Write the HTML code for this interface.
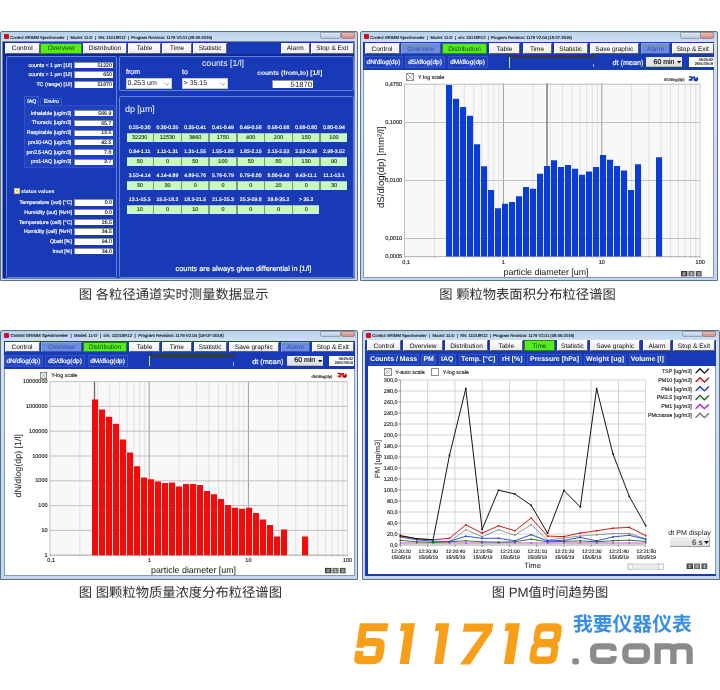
<!DOCTYPE html>
<html><head><meta charset="utf-8"><title>GRIMM 11-D</title><style>html,body{margin:0;padding:0;background:#fff;}
#p{text-rendering:geometricPrecision;position:relative;width:720px;height:690px;overflow:hidden;background:#fff;font-family:"Liberation Sans",sans-serif;}
#p div,#p svg{position:absolute;}
#p .t{white-space:pre;}
#w{left:0;top:0;width:720px;height:690px;filter:blur(0.4px);}
</style></head><body><div id="p">
<div id="w">
<div style="left:0px;top:31px;width:358px;height:250.4px;background:linear-gradient(#b9d1ea,#d3e2f2 12px,#c3d7ee);border:1px solid #5d6f86;box-sizing:border-box;border-radius:2px 2px 0 0;"></div>
<div style="left:3.9px;top:34px;width:4.8px;height:5px;background:#cf0f1c;border-radius:1px;"></div>
<div class="t" style="top:34.67px;height:5.16px;line-height:5.16px;font-size:4.13px;color:#10141c;-webkit-text-stroke:0.14px #10141c;left:10.2px;">Control GRIMM Spectrometer  |  Model: 11-D  |  SN: 11D18R12  |  Program Revision: 1179 V2.01 (08-05-2019)</div>
<div style="left:320px;top:32px;width:21px;height:6.5px;background:linear-gradient(#dbe6f2,#b9c9dc);border:0.5px solid #93a3b8;border-radius:0 0 2px 2px;box-sizing:border-box;"></div>
<div style="left:340.5px;top:32px;width:14px;height:6.5px;background:linear-gradient(#e6bdb6,#d28c84);border:0.5px solid #a08484;border-radius:0 0 2px 2px;box-sizing:border-box;"></div>
<div style="left:3.2px;top:42px;width:350.9px;height:235.8px;background:#0f2799;box-shadow:0 0 0 0.7px #4d5f8c;"></div>
<div style="left:5.6px;top:42px;width:348.5px;height:235.7px;background:#183ab6;"></div>
<div style="left:3.2px;top:53.6px;width:350.9px;height:2.4px;background:#0f2799;"></div>
<div style="left:4.5px;top:42.6px;width:35.5px;height:11px;background:linear-gradient(#fdfdfd,#ececec);border-top:0.6px solid #fff;border-left:0.6px solid #fff;border-right:0.9px solid #5b5f68;border-bottom:0.9px solid #5b5f68;box-sizing:border-box;"></div>
<div class="t" style="top:45.09px;height:8.12px;line-height:8.12px;font-size:6.5px;color:#0a0a0a;left:-97.75px;width:240px;text-align:center;">Control</div>
<div style="left:40.4px;top:42.6px;width:41.6px;height:11px;background:#58ec1c;border:0.9px solid #2c8a12;box-sizing:border-box;"></div>
<div class="t" style="top:45.09px;height:8.12px;line-height:8.12px;font-size:6.5px;color:#0b4d08;left:-58.8px;width:240px;text-align:center;">Overview</div>
<div style="left:83px;top:42.6px;width:44px;height:11px;background:linear-gradient(#fdfdfd,#ececec);border-top:0.6px solid #fff;border-left:0.6px solid #fff;border-right:0.9px solid #5b5f68;border-bottom:0.9px solid #5b5f68;box-sizing:border-box;"></div>
<div class="t" style="top:45.09px;height:8.12px;line-height:8.12px;font-size:6.5px;color:#0a0a0a;left:-15px;width:240px;text-align:center;">Distribution</div>
<div style="left:128.3px;top:42.6px;width:32.7px;height:11px;background:linear-gradient(#fdfdfd,#ececec);border-top:0.6px solid #fff;border-left:0.6px solid #fff;border-right:0.9px solid #5b5f68;border-bottom:0.9px solid #5b5f68;box-sizing:border-box;"></div>
<div class="t" style="top:45.09px;height:8.12px;line-height:8.12px;font-size:6.5px;color:#0a0a0a;left:24.65px;width:240px;text-align:center;">Table</div>
<div style="left:162.3px;top:42.6px;width:29.7px;height:11px;background:linear-gradient(#fdfdfd,#ececec);border-top:0.6px solid #fff;border-left:0.6px solid #fff;border-right:0.9px solid #5b5f68;border-bottom:0.9px solid #5b5f68;box-sizing:border-box;"></div>
<div class="t" style="top:45.09px;height:8.12px;line-height:8.12px;font-size:6.5px;color:#0a0a0a;left:57.15px;width:240px;text-align:center;">Time</div>
<div style="left:193.3px;top:42.6px;width:33.7px;height:11px;background:linear-gradient(#fdfdfd,#ececec);border-top:0.6px solid #fff;border-left:0.6px solid #fff;border-right:0.9px solid #5b5f68;border-bottom:0.9px solid #5b5f68;box-sizing:border-box;"></div>
<div class="t" style="top:45.09px;height:8.12px;line-height:8.12px;font-size:6.5px;color:#0a0a0a;left:90.15px;width:240px;text-align:center;">Statistic</div>
<div style="left:280.5px;top:42.6px;width:29.5px;height:11px;background:linear-gradient(#fdfdfd,#ececec);border-top:0.6px solid #fff;border-left:0.6px solid #fff;border-right:0.9px solid #5b5f68;border-bottom:0.9px solid #5b5f68;box-sizing:border-box;"></div>
<div class="t" style="top:45.09px;height:8.12px;line-height:8.12px;font-size:6.5px;color:#0a0a0a;left:175.25px;width:240px;text-align:center;">Alarm</div>
<div style="left:311px;top:42.6px;width:42.6px;height:11px;background:linear-gradient(#fdfdfd,#ececec);border-top:0.6px solid #fff;border-left:0.6px solid #fff;border-right:0.9px solid #5b5f68;border-bottom:0.9px solid #5b5f68;box-sizing:border-box;"></div>
<div class="t" style="top:45.09px;height:8.12px;line-height:8.12px;font-size:6.5px;color:#0a0a0a;left:212.3px;width:240px;text-align:center;">Stop &amp; Exit</div>
<div style="left:5.9px;top:56.2px;width:111.5px;height:221.4px;border:1.4px solid #6282dc;box-sizing:border-box;border-radius:1.5px;"></div>
<div style="left:118.8px;top:56.3px;width:235px;height:35px;border:1.4px solid #6282dc;box-sizing:border-box;border-radius:1.5px;"></div>
<div style="left:118.8px;top:95.8px;width:235px;height:181.8px;border:1.4px solid #6282dc;box-sizing:border-box;border-radius:1.5px;"></div>
<div class="t" style="top:62.64px;height:6.62px;line-height:6.62px;font-size:5.3px;color:#fff;-webkit-text-stroke:0.18px #fff;left:-168px;width:240px;text-align:right;">counts &lt; 1 µm [1/l]</div>
<div style="left:74px;top:61.8px;width:39.2px;height:6.5px;background:#fff;border-top:0.6px solid #8a8f9c;border-left:0.6px solid #8a8f9c;box-sizing:border-box;"></div>
<div class="t" style="top:62.85px;height:6.5px;line-height:6.5px;font-size:5.2px;color:#1b1b1b;-webkit-text-stroke:0.14px #1b1b1b;left:-128.1px;width:240px;text-align:right;">51220</div>
<div class="t" style="top:72.04px;height:6.62px;line-height:6.62px;font-size:5.3px;color:#fff;-webkit-text-stroke:0.18px #fff;left:-168px;width:240px;text-align:right;">counts &gt; 1 µm [1/l]</div>
<div style="left:74px;top:71.2px;width:39.2px;height:6.5px;background:#fff;border-top:0.6px solid #8a8f9c;border-left:0.6px solid #8a8f9c;box-sizing:border-box;"></div>
<div class="t" style="top:72.25px;height:6.5px;line-height:6.5px;font-size:5.2px;color:#1b1b1b;-webkit-text-stroke:0.14px #1b1b1b;left:-128.1px;width:240px;text-align:right;">650</div>
<div class="t" style="top:82.04px;height:6.62px;line-height:6.62px;font-size:5.3px;color:#fff;-webkit-text-stroke:0.18px #fff;left:-168px;width:240px;text-align:right;">TC (range) [1/l]</div>
<div style="left:74px;top:81.2px;width:39.2px;height:6.5px;background:#fff;border-top:0.6px solid #8a8f9c;border-left:0.6px solid #8a8f9c;box-sizing:border-box;"></div>
<div class="t" style="top:82.25px;height:6.5px;line-height:6.5px;font-size:5.2px;color:#1b1b1b;-webkit-text-stroke:0.14px #1b1b1b;left:-128.1px;width:240px;text-align:right;">51870</div>
<div style="left:24px;top:105.3px;width:91.3px;height:62.4px;background:#1f43c0;border:0.6px solid #2f50c8;box-sizing:border-box;"></div>
<div style="left:24.4px;top:96.4px;width:15px;height:9.4px;background:#1f43c0;border:0.6px solid #3a5ace;border-bottom:none;box-sizing:border-box;"></div>
<div style="left:40.4px;top:97.6px;width:22px;height:7.8px;background:#1a3cb4;border:0.6px solid #3454c8;border-bottom:none;box-sizing:border-box;"></div>
<div class="t" style="top:98.94px;height:6.62px;line-height:6.62px;font-size:5.3px;color:#fff;-webkit-text-stroke:0.18px #fff;left:-88.2px;width:240px;text-align:center;">IAQ</div>
<div class="t" style="top:99.34px;height:6.62px;line-height:6.62px;font-size:5.3px;color:#fff;-webkit-text-stroke:0.18px #fff;left:-68.6px;width:240px;text-align:center;">Enviro</div>
<div class="t" style="top:110.74px;height:6.62px;line-height:6.62px;font-size:5.3px;color:#fff;-webkit-text-stroke:0.18px #fff;left:-168.7px;width:240px;text-align:right;">Inhalable [ug/m3]</div>
<div style="left:73.5px;top:110px;width:39.1px;height:6.3px;background:#fff;border-top:0.6px solid #8a8f9c;border-left:0.6px solid #8a8f9c;box-sizing:border-box;"></div>
<div class="t" style="top:110.95px;height:6.5px;line-height:6.5px;font-size:5.2px;color:#1b1b1b;-webkit-text-stroke:0.14px #1b1b1b;left:-128.7px;width:240px;text-align:right;">566.9</div>
<div class="t" style="top:120.44px;height:6.62px;line-height:6.62px;font-size:5.3px;color:#fff;-webkit-text-stroke:0.18px #fff;left:-168.7px;width:240px;text-align:right;">Thoracic [ug/m3]</div>
<div style="left:73.5px;top:119.7px;width:39.1px;height:6.3px;background:#fff;border-top:0.6px solid #8a8f9c;border-left:0.6px solid #8a8f9c;box-sizing:border-box;"></div>
<div class="t" style="top:120.65px;height:6.5px;line-height:6.5px;font-size:5.2px;color:#1b1b1b;-webkit-text-stroke:0.14px #1b1b1b;left:-128.7px;width:240px;text-align:right;">65.7</div>
<div class="t" style="top:130.24px;height:6.62px;line-height:6.62px;font-size:5.3px;color:#fff;-webkit-text-stroke:0.18px #fff;left:-168.7px;width:240px;text-align:right;">Respirable [ug/m3]</div>
<div style="left:73.5px;top:129.5px;width:39.1px;height:6.3px;background:#fff;border-top:0.6px solid #8a8f9c;border-left:0.6px solid #8a8f9c;box-sizing:border-box;"></div>
<div class="t" style="top:130.45px;height:6.5px;line-height:6.5px;font-size:5.2px;color:#1b1b1b;-webkit-text-stroke:0.14px #1b1b1b;left:-128.7px;width:240px;text-align:right;">13.5</div>
<div class="t" style="top:139.74px;height:6.62px;line-height:6.62px;font-size:5.3px;color:#fff;-webkit-text-stroke:0.18px #fff;left:-168.7px;width:240px;text-align:right;">pm10-IAQ [ug/m3]</div>
<div style="left:73.5px;top:139px;width:39.1px;height:6.3px;background:#fff;border-top:0.6px solid #8a8f9c;border-left:0.6px solid #8a8f9c;box-sizing:border-box;"></div>
<div class="t" style="top:139.95px;height:6.5px;line-height:6.5px;font-size:5.2px;color:#1b1b1b;-webkit-text-stroke:0.14px #1b1b1b;left:-128.7px;width:240px;text-align:right;">42.5</div>
<div class="t" style="top:149.54px;height:6.62px;line-height:6.62px;font-size:5.3px;color:#fff;-webkit-text-stroke:0.18px #fff;left:-168.7px;width:240px;text-align:right;">pm2.5-IAQ [ug/m3]</div>
<div style="left:73.5px;top:148.8px;width:39.1px;height:6.3px;background:#fff;border-top:0.6px solid #8a8f9c;border-left:0.6px solid #8a8f9c;box-sizing:border-box;"></div>
<div class="t" style="top:149.75px;height:6.5px;line-height:6.5px;font-size:5.2px;color:#1b1b1b;-webkit-text-stroke:0.14px #1b1b1b;left:-128.7px;width:240px;text-align:right;">7.0</div>
<div class="t" style="top:159.24px;height:6.62px;line-height:6.62px;font-size:5.3px;color:#fff;-webkit-text-stroke:0.18px #fff;left:-168.7px;width:240px;text-align:right;">pm1-IAQ [ug/m3]</div>
<div style="left:73.5px;top:158.5px;width:39.1px;height:6.3px;background:#fff;border-top:0.6px solid #8a8f9c;border-left:0.6px solid #8a8f9c;box-sizing:border-box;"></div>
<div class="t" style="top:159.45px;height:6.5px;line-height:6.5px;font-size:5.2px;color:#1b1b1b;-webkit-text-stroke:0.14px #1b1b1b;left:-128.7px;width:240px;text-align:right;">3.7</div>
<div style="left:13.7px;top:188px;width:6.2px;height:6.2px;background:#fffdf2;border:0.4px solid #cdbb7a;box-sizing:border-box;"></div>
<svg style="left:13.7px;top:188px" width="6" height="6" viewBox="0 0 6 6"><path d="M1.7 1.7L4.5 4.5M4.5 1.7L1.7 4.5" stroke="#c9a227" stroke-width="0.7" fill="none"/></svg>
<div class="t" style="top:188.74px;height:6.62px;line-height:6.62px;font-size:5.3px;color:#fff;font-weight:bold;left:21px;">status values</div>
<div class="t" style="top:199.84px;height:6.62px;line-height:6.62px;font-size:5.3px;color:#fff;-webkit-text-stroke:0.18px #fff;left:-168px;width:240px;text-align:right;">Temperature (out) [°C]</div>
<div style="left:74px;top:199px;width:39.2px;height:6.5px;background:#fff;border-top:0.6px solid #8a8f9c;border-left:0.6px solid #8a8f9c;box-sizing:border-box;"></div>
<div class="t" style="top:200.05px;height:6.5px;line-height:6.5px;font-size:5.2px;color:#1b1b1b;-webkit-text-stroke:0.14px #1b1b1b;left:-128.1px;width:240px;text-align:right;">0.0</div>
<div class="t" style="top:209.64px;height:6.62px;line-height:6.62px;font-size:5.3px;color:#fff;-webkit-text-stroke:0.18px #fff;left:-168px;width:240px;text-align:right;">Humidity (out) [%rH]</div>
<div style="left:74px;top:208.8px;width:39.2px;height:6.5px;background:#fff;border-top:0.6px solid #8a8f9c;border-left:0.6px solid #8a8f9c;box-sizing:border-box;"></div>
<div class="t" style="top:209.85px;height:6.5px;line-height:6.5px;font-size:5.2px;color:#1b1b1b;-webkit-text-stroke:0.14px #1b1b1b;left:-128.1px;width:240px;text-align:right;">0.0</div>
<div class="t" style="top:219.54px;height:6.62px;line-height:6.62px;font-size:5.3px;color:#fff;-webkit-text-stroke:0.18px #fff;left:-168px;width:240px;text-align:right;">Temperature (cell) [°C]</div>
<div style="left:74px;top:218.7px;width:39.2px;height:6.5px;background:#fff;border-top:0.6px solid #8a8f9c;border-left:0.6px solid #8a8f9c;box-sizing:border-box;"></div>
<div class="t" style="top:219.75px;height:6.5px;line-height:6.5px;font-size:5.2px;color:#1b1b1b;-webkit-text-stroke:0.14px #1b1b1b;left:-128.1px;width:240px;text-align:right;">26.5</div>
<div class="t" style="top:229.14px;height:6.62px;line-height:6.62px;font-size:5.3px;color:#fff;-webkit-text-stroke:0.18px #fff;left:-168px;width:240px;text-align:right;">Humidity (cell) [%rH]</div>
<div style="left:74px;top:228.3px;width:39.2px;height:6.5px;background:#fff;border-top:0.6px solid #8a8f9c;border-left:0.6px solid #8a8f9c;box-sizing:border-box;"></div>
<div class="t" style="top:229.35px;height:6.5px;line-height:6.5px;font-size:5.2px;color:#1b1b1b;-webkit-text-stroke:0.14px #1b1b1b;left:-128.1px;width:240px;text-align:right;">34.5</div>
<div class="t" style="top:238.84px;height:6.62px;line-height:6.62px;font-size:5.3px;color:#fff;-webkit-text-stroke:0.18px #fff;left:-168px;width:240px;text-align:right;">Qbatt [%]</div>
<div style="left:74px;top:238px;width:39.2px;height:6.5px;background:#fff;border-top:0.6px solid #8a8f9c;border-left:0.6px solid #8a8f9c;box-sizing:border-box;"></div>
<div class="t" style="top:239.05px;height:6.5px;line-height:6.5px;font-size:5.2px;color:#1b1b1b;-webkit-text-stroke:0.14px #1b1b1b;left:-128.1px;width:240px;text-align:right;">94.0</div>
<div class="t" style="top:248.64px;height:6.62px;line-height:6.62px;font-size:5.3px;color:#fff;-webkit-text-stroke:0.18px #fff;left:-168px;width:240px;text-align:right;">Imot [%]</div>
<div style="left:74px;top:247.8px;width:39.2px;height:6.5px;background:#fff;border-top:0.6px solid #8a8f9c;border-left:0.6px solid #8a8f9c;box-sizing:border-box;"></div>
<div class="t" style="top:248.85px;height:6.5px;line-height:6.5px;font-size:5.2px;color:#1b1b1b;-webkit-text-stroke:0.14px #1b1b1b;left:-128.1px;width:240px;text-align:right;">34.0</div>
<div class="t" style="top:58.41px;height:10.88px;line-height:10.88px;font-size:8.7px;color:#fff;left:103px;width:240px;text-align:center;">counts [1/l]</div>
<div class="t" style="top:68.67px;height:8.75px;line-height:8.75px;font-size:7px;color:#fff;-webkit-text-stroke:0.18px #fff;left:126px;">from</div>
<div class="t" style="top:68.67px;height:8.75px;line-height:8.75px;font-size:7px;color:#fff;-webkit-text-stroke:0.18px #fff;left:182px;">to</div>
<div style="left:126px;top:77.7px;width:46px;height:11.6px;background:#fff;border:0.5px solid #c4c8d0;box-sizing:border-box;"></div>
<div class="t" style="top:79.97px;height:8.75px;line-height:8.75px;font-size:7px;color:#151515;left:127.6px;">0.253 um</div>
<svg style="left:164px;top:81.6px" width="6" height="4" viewBox="0 0 6 4"><path d="M0.8 0.8L3 3L5.2 0.8" stroke="#b0a890" stroke-width="1" fill="none"/></svg>
<div style="left:182px;top:77.7px;width:46px;height:11.6px;background:#fff;border:0.5px solid #c4c8d0;box-sizing:border-box;"></div>
<div class="t" style="top:79.97px;height:8.75px;line-height:8.75px;font-size:7px;color:#151515;left:183.6px;">&gt; 35.15</div>
<svg style="left:220px;top:81.6px" width="6" height="4" viewBox="0 0 6 4"><path d="M0.8 0.8L3 3L5.2 0.8" stroke="#b0a890" stroke-width="1" fill="none"/></svg>
<div class="t" style="top:70.06px;height:8.38px;line-height:8.38px;font-size:6.7px;color:#fff;font-weight:bold;left:169.7px;width:240px;text-align:center;">counts (from,to) [1/l]</div>
<div style="left:272px;top:80px;width:41px;height:8px;background:#fff;border-top:0.6px solid #8a8f9c;border-left:0.6px solid #8a8f9c;box-sizing:border-box;"></div>
<div class="t" style="top:80.24px;height:9.62px;line-height:9.62px;font-size:7.7px;color:#151515;left:72px;width:240px;text-align:right;">51870</div>
<div class="t" style="top:104.29px;height:11.12px;line-height:11.12px;font-size:8.9px;color:#fff;left:125px;">dp [µm]</div>
<div style="left:126.6px;top:133.3px;width:220.6px;height:9.1px;background:#7f958c;"></div>
<div style="left:126.6px;top:133.3px;width:26.2px;height:9.1px;background:#c8f8ca;border-top:0.5px solid #a9c9ae;box-sizing:border-box;"></div>
<div class="t" style="top:125.13px;height:6.44px;line-height:6.44px;font-size:5.15px;color:#fff;-webkit-text-stroke:0.18px #fff;left:19.7px;width:240px;text-align:center;">0.25-0.30</div>
<div class="t" style="top:135.46px;height:6.88px;line-height:6.88px;font-size:5.5px;color:#14301a;-webkit-text-stroke:0.14px #14301a;left:19.7px;width:240px;text-align:center;">32230</div>
<div style="left:154.35px;top:133.3px;width:26.2px;height:9.1px;background:#c8f8ca;border-top:0.5px solid #a9c9ae;box-sizing:border-box;"></div>
<div class="t" style="top:125.13px;height:6.44px;line-height:6.44px;font-size:5.15px;color:#fff;-webkit-text-stroke:0.18px #fff;left:47.45px;width:240px;text-align:center;">0.30-0.35</div>
<div class="t" style="top:135.46px;height:6.88px;line-height:6.88px;font-size:5.5px;color:#14301a;-webkit-text-stroke:0.14px #14301a;left:47.45px;width:240px;text-align:center;">12530</div>
<div style="left:182.1px;top:133.3px;width:26.2px;height:9.1px;background:#c8f8ca;border-top:0.5px solid #a9c9ae;box-sizing:border-box;"></div>
<div class="t" style="top:125.13px;height:6.44px;line-height:6.44px;font-size:5.15px;color:#fff;-webkit-text-stroke:0.18px #fff;left:75.2px;width:240px;text-align:center;">0.35-0.41</div>
<div class="t" style="top:135.46px;height:6.88px;line-height:6.88px;font-size:5.5px;color:#14301a;-webkit-text-stroke:0.14px #14301a;left:75.2px;width:240px;text-align:center;">3860</div>
<div style="left:209.85px;top:133.3px;width:26.2px;height:9.1px;background:#c8f8ca;border-top:0.5px solid #a9c9ae;box-sizing:border-box;"></div>
<div class="t" style="top:125.13px;height:6.44px;line-height:6.44px;font-size:5.15px;color:#fff;-webkit-text-stroke:0.18px #fff;left:102.95px;width:240px;text-align:center;">0.41-0.49</div>
<div class="t" style="top:135.46px;height:6.88px;line-height:6.88px;font-size:5.5px;color:#14301a;-webkit-text-stroke:0.14px #14301a;left:102.95px;width:240px;text-align:center;">1750</div>
<div style="left:237.6px;top:133.3px;width:26.2px;height:9.1px;background:#c8f8ca;border-top:0.5px solid #a9c9ae;box-sizing:border-box;"></div>
<div class="t" style="top:125.13px;height:6.44px;line-height:6.44px;font-size:5.15px;color:#fff;-webkit-text-stroke:0.18px #fff;left:130.7px;width:240px;text-align:center;">0.49-0.58</div>
<div class="t" style="top:135.46px;height:6.88px;line-height:6.88px;font-size:5.5px;color:#14301a;-webkit-text-stroke:0.14px #14301a;left:130.7px;width:240px;text-align:center;">400</div>
<div style="left:265.35px;top:133.3px;width:26.2px;height:9.1px;background:#c8f8ca;border-top:0.5px solid #a9c9ae;box-sizing:border-box;"></div>
<div class="t" style="top:125.13px;height:6.44px;line-height:6.44px;font-size:5.15px;color:#fff;-webkit-text-stroke:0.18px #fff;left:158.45px;width:240px;text-align:center;">0.58-0.68</div>
<div class="t" style="top:135.46px;height:6.88px;line-height:6.88px;font-size:5.5px;color:#14301a;-webkit-text-stroke:0.14px #14301a;left:158.45px;width:240px;text-align:center;">200</div>
<div style="left:293.1px;top:133.3px;width:26.2px;height:9.1px;background:#c8f8ca;border-top:0.5px solid #a9c9ae;box-sizing:border-box;"></div>
<div class="t" style="top:125.13px;height:6.44px;line-height:6.44px;font-size:5.15px;color:#fff;-webkit-text-stroke:0.18px #fff;left:186.2px;width:240px;text-align:center;">0.68-0.80</div>
<div class="t" style="top:135.46px;height:6.88px;line-height:6.88px;font-size:5.5px;color:#14301a;-webkit-text-stroke:0.14px #14301a;left:186.2px;width:240px;text-align:center;">150</div>
<div style="left:320.85px;top:133.3px;width:26.2px;height:9.1px;background:#c8f8ca;border-top:0.5px solid #a9c9ae;box-sizing:border-box;"></div>
<div class="t" style="top:125.13px;height:6.44px;line-height:6.44px;font-size:5.15px;color:#fff;-webkit-text-stroke:0.18px #fff;left:213.95px;width:240px;text-align:center;">0.80-0.94</div>
<div class="t" style="top:135.46px;height:6.88px;line-height:6.88px;font-size:5.5px;color:#14301a;-webkit-text-stroke:0.14px #14301a;left:213.95px;width:240px;text-align:center;">100</div>
<div style="left:126.6px;top:157.3px;width:220.6px;height:9.1px;background:#7f958c;"></div>
<div style="left:126.6px;top:157.3px;width:26.2px;height:9.1px;background:#c8f8ca;border-top:0.5px solid #a9c9ae;box-sizing:border-box;"></div>
<div class="t" style="top:149.13px;height:6.44px;line-height:6.44px;font-size:5.15px;color:#fff;-webkit-text-stroke:0.18px #fff;left:19.7px;width:240px;text-align:center;">0.94-1.11</div>
<div class="t" style="top:159.46px;height:6.88px;line-height:6.88px;font-size:5.5px;color:#14301a;-webkit-text-stroke:0.14px #14301a;left:19.7px;width:240px;text-align:center;">50</div>
<div style="left:154.35px;top:157.3px;width:26.2px;height:9.1px;background:#c8f8ca;border-top:0.5px solid #a9c9ae;box-sizing:border-box;"></div>
<div class="t" style="top:149.13px;height:6.44px;line-height:6.44px;font-size:5.15px;color:#fff;-webkit-text-stroke:0.18px #fff;left:47.45px;width:240px;text-align:center;">1.11-1.31</div>
<div class="t" style="top:159.46px;height:6.88px;line-height:6.88px;font-size:5.5px;color:#14301a;-webkit-text-stroke:0.14px #14301a;left:47.45px;width:240px;text-align:center;">0</div>
<div style="left:182.1px;top:157.3px;width:26.2px;height:9.1px;background:#c8f8ca;border-top:0.5px solid #a9c9ae;box-sizing:border-box;"></div>
<div class="t" style="top:149.13px;height:6.44px;line-height:6.44px;font-size:5.15px;color:#fff;-webkit-text-stroke:0.18px #fff;left:75.2px;width:240px;text-align:center;">1.31-1.55</div>
<div class="t" style="top:159.46px;height:6.88px;line-height:6.88px;font-size:5.5px;color:#14301a;-webkit-text-stroke:0.14px #14301a;left:75.2px;width:240px;text-align:center;">50</div>
<div style="left:209.85px;top:157.3px;width:26.2px;height:9.1px;background:#c8f8ca;border-top:0.5px solid #a9c9ae;box-sizing:border-box;"></div>
<div class="t" style="top:149.13px;height:6.44px;line-height:6.44px;font-size:5.15px;color:#fff;-webkit-text-stroke:0.18px #fff;left:102.95px;width:240px;text-align:center;">1.55-1.82</div>
<div class="t" style="top:159.46px;height:6.88px;line-height:6.88px;font-size:5.5px;color:#14301a;-webkit-text-stroke:0.14px #14301a;left:102.95px;width:240px;text-align:center;">100</div>
<div style="left:237.6px;top:157.3px;width:26.2px;height:9.1px;background:#c8f8ca;border-top:0.5px solid #a9c9ae;box-sizing:border-box;"></div>
<div class="t" style="top:149.13px;height:6.44px;line-height:6.44px;font-size:5.15px;color:#fff;-webkit-text-stroke:0.18px #fff;left:130.7px;width:240px;text-align:center;">1.82-2.15</div>
<div class="t" style="top:159.46px;height:6.88px;line-height:6.88px;font-size:5.5px;color:#14301a;-webkit-text-stroke:0.14px #14301a;left:130.7px;width:240px;text-align:center;">50</div>
<div style="left:265.35px;top:157.3px;width:26.2px;height:9.1px;background:#c8f8ca;border-top:0.5px solid #a9c9ae;box-sizing:border-box;"></div>
<div class="t" style="top:149.13px;height:6.44px;line-height:6.44px;font-size:5.15px;color:#fff;-webkit-text-stroke:0.18px #fff;left:158.45px;width:240px;text-align:center;">2.15-2.53</div>
<div class="t" style="top:159.46px;height:6.88px;line-height:6.88px;font-size:5.5px;color:#14301a;-webkit-text-stroke:0.14px #14301a;left:158.45px;width:240px;text-align:center;">50</div>
<div style="left:293.1px;top:157.3px;width:26.2px;height:9.1px;background:#c8f8ca;border-top:0.5px solid #a9c9ae;box-sizing:border-box;"></div>
<div class="t" style="top:149.13px;height:6.44px;line-height:6.44px;font-size:5.15px;color:#fff;-webkit-text-stroke:0.18px #fff;left:186.2px;width:240px;text-align:center;">2.53-2.98</div>
<div class="t" style="top:159.46px;height:6.88px;line-height:6.88px;font-size:5.5px;color:#14301a;-webkit-text-stroke:0.14px #14301a;left:186.2px;width:240px;text-align:center;">130</div>
<div style="left:320.85px;top:157.3px;width:26.2px;height:9.1px;background:#c8f8ca;border-top:0.5px solid #a9c9ae;box-sizing:border-box;"></div>
<div class="t" style="top:149.13px;height:6.44px;line-height:6.44px;font-size:5.15px;color:#fff;-webkit-text-stroke:0.18px #fff;left:213.95px;width:240px;text-align:center;">2.98-3.52</div>
<div class="t" style="top:159.46px;height:6.88px;line-height:6.88px;font-size:5.5px;color:#14301a;-webkit-text-stroke:0.14px #14301a;left:213.95px;width:240px;text-align:center;">90</div>
<div style="left:126.6px;top:181.3px;width:220.6px;height:9.1px;background:#7f958c;"></div>
<div style="left:126.6px;top:181.3px;width:26.2px;height:9.1px;background:#c8f8ca;border-top:0.5px solid #a9c9ae;box-sizing:border-box;"></div>
<div class="t" style="top:173.13px;height:6.44px;line-height:6.44px;font-size:5.15px;color:#fff;-webkit-text-stroke:0.18px #fff;left:19.7px;width:240px;text-align:center;">3.52-4.14</div>
<div class="t" style="top:183.46px;height:6.88px;line-height:6.88px;font-size:5.5px;color:#14301a;-webkit-text-stroke:0.14px #14301a;left:19.7px;width:240px;text-align:center;">30</div>
<div style="left:154.35px;top:181.3px;width:26.2px;height:9.1px;background:#c8f8ca;border-top:0.5px solid #a9c9ae;box-sizing:border-box;"></div>
<div class="t" style="top:173.13px;height:6.44px;line-height:6.44px;font-size:5.15px;color:#fff;-webkit-text-stroke:0.18px #fff;left:47.45px;width:240px;text-align:center;">4.14-4.89</div>
<div class="t" style="top:183.46px;height:6.88px;line-height:6.88px;font-size:5.5px;color:#14301a;-webkit-text-stroke:0.14px #14301a;left:47.45px;width:240px;text-align:center;">30</div>
<div style="left:182.1px;top:181.3px;width:26.2px;height:9.1px;background:#c8f8ca;border-top:0.5px solid #a9c9ae;box-sizing:border-box;"></div>
<div class="t" style="top:173.13px;height:6.44px;line-height:6.44px;font-size:5.15px;color:#fff;-webkit-text-stroke:0.18px #fff;left:75.2px;width:240px;text-align:center;">4.89-5.76</div>
<div class="t" style="top:183.46px;height:6.88px;line-height:6.88px;font-size:5.5px;color:#14301a;-webkit-text-stroke:0.14px #14301a;left:75.2px;width:240px;text-align:center;">0</div>
<div style="left:209.85px;top:181.3px;width:26.2px;height:9.1px;background:#c8f8ca;border-top:0.5px solid #a9c9ae;box-sizing:border-box;"></div>
<div class="t" style="top:173.13px;height:6.44px;line-height:6.44px;font-size:5.15px;color:#fff;-webkit-text-stroke:0.18px #fff;left:102.95px;width:240px;text-align:center;">5.76-6.79</div>
<div class="t" style="top:183.46px;height:6.88px;line-height:6.88px;font-size:5.5px;color:#14301a;-webkit-text-stroke:0.14px #14301a;left:102.95px;width:240px;text-align:center;">0</div>
<div style="left:237.6px;top:181.3px;width:26.2px;height:9.1px;background:#c8f8ca;border-top:0.5px solid #a9c9ae;box-sizing:border-box;"></div>
<div class="t" style="top:173.13px;height:6.44px;line-height:6.44px;font-size:5.15px;color:#fff;-webkit-text-stroke:0.18px #fff;left:130.7px;width:240px;text-align:center;">6.79-8.00</div>
<div class="t" style="top:183.46px;height:6.88px;line-height:6.88px;font-size:5.5px;color:#14301a;-webkit-text-stroke:0.14px #14301a;left:130.7px;width:240px;text-align:center;">0</div>
<div style="left:265.35px;top:181.3px;width:26.2px;height:9.1px;background:#c8f8ca;border-top:0.5px solid #a9c9ae;box-sizing:border-box;"></div>
<div class="t" style="top:173.13px;height:6.44px;line-height:6.44px;font-size:5.15px;color:#fff;-webkit-text-stroke:0.18px #fff;left:158.45px;width:240px;text-align:center;">8.00-9.43</div>
<div class="t" style="top:183.46px;height:6.88px;line-height:6.88px;font-size:5.5px;color:#14301a;-webkit-text-stroke:0.14px #14301a;left:158.45px;width:240px;text-align:center;">20</div>
<div style="left:293.1px;top:181.3px;width:26.2px;height:9.1px;background:#c8f8ca;border-top:0.5px solid #a9c9ae;box-sizing:border-box;"></div>
<div class="t" style="top:173.13px;height:6.44px;line-height:6.44px;font-size:5.15px;color:#fff;-webkit-text-stroke:0.18px #fff;left:186.2px;width:240px;text-align:center;">9.43-11.1</div>
<div class="t" style="top:183.46px;height:6.88px;line-height:6.88px;font-size:5.5px;color:#14301a;-webkit-text-stroke:0.14px #14301a;left:186.2px;width:240px;text-align:center;">0</div>
<div style="left:320.85px;top:181.3px;width:26.2px;height:9.1px;background:#c8f8ca;border-top:0.5px solid #a9c9ae;box-sizing:border-box;"></div>
<div class="t" style="top:173.13px;height:6.44px;line-height:6.44px;font-size:5.15px;color:#fff;-webkit-text-stroke:0.18px #fff;left:213.95px;width:240px;text-align:center;">11.1-13.1</div>
<div class="t" style="top:183.46px;height:6.88px;line-height:6.88px;font-size:5.5px;color:#14301a;-webkit-text-stroke:0.14px #14301a;left:213.95px;width:240px;text-align:center;">30</div>
<div style="left:126.6px;top:205.3px;width:192.85px;height:9.1px;background:#7f958c;"></div>
<div style="left:126.6px;top:205.3px;width:26.2px;height:9.1px;background:#c8f8ca;border-top:0.5px solid #a9c9ae;box-sizing:border-box;"></div>
<div class="t" style="top:197.13px;height:6.44px;line-height:6.44px;font-size:5.15px;color:#fff;-webkit-text-stroke:0.18px #fff;left:19.7px;width:240px;text-align:center;">13.1-15.5</div>
<div class="t" style="top:207.46px;height:6.88px;line-height:6.88px;font-size:5.5px;color:#14301a;-webkit-text-stroke:0.14px #14301a;left:19.7px;width:240px;text-align:center;">10</div>
<div style="left:154.35px;top:205.3px;width:26.2px;height:9.1px;background:#c8f8ca;border-top:0.5px solid #a9c9ae;box-sizing:border-box;"></div>
<div class="t" style="top:197.13px;height:6.44px;line-height:6.44px;font-size:5.15px;color:#fff;-webkit-text-stroke:0.18px #fff;left:47.45px;width:240px;text-align:center;">15.5-18.2</div>
<div class="t" style="top:207.46px;height:6.88px;line-height:6.88px;font-size:5.5px;color:#14301a;-webkit-text-stroke:0.14px #14301a;left:47.45px;width:240px;text-align:center;">0</div>
<div style="left:182.1px;top:205.3px;width:26.2px;height:9.1px;background:#c8f8ca;border-top:0.5px solid #a9c9ae;box-sizing:border-box;"></div>
<div class="t" style="top:197.13px;height:6.44px;line-height:6.44px;font-size:5.15px;color:#fff;-webkit-text-stroke:0.18px #fff;left:75.2px;width:240px;text-align:center;">18.2-21.5</div>
<div class="t" style="top:207.46px;height:6.88px;line-height:6.88px;font-size:5.5px;color:#14301a;-webkit-text-stroke:0.14px #14301a;left:75.2px;width:240px;text-align:center;">10</div>
<div style="left:209.85px;top:205.3px;width:26.2px;height:9.1px;background:#c8f8ca;border-top:0.5px solid #a9c9ae;box-sizing:border-box;"></div>
<div class="t" style="top:197.13px;height:6.44px;line-height:6.44px;font-size:5.15px;color:#fff;-webkit-text-stroke:0.18px #fff;left:102.95px;width:240px;text-align:center;">21.5-25.3</div>
<div class="t" style="top:207.46px;height:6.88px;line-height:6.88px;font-size:5.5px;color:#14301a;-webkit-text-stroke:0.14px #14301a;left:102.95px;width:240px;text-align:center;">0</div>
<div style="left:237.6px;top:205.3px;width:26.2px;height:9.1px;background:#c8f8ca;border-top:0.5px solid #a9c9ae;box-sizing:border-box;"></div>
<div class="t" style="top:197.13px;height:6.44px;line-height:6.44px;font-size:5.15px;color:#fff;-webkit-text-stroke:0.18px #fff;left:130.7px;width:240px;text-align:center;">25.3-29.8</div>
<div class="t" style="top:207.46px;height:6.88px;line-height:6.88px;font-size:5.5px;color:#14301a;-webkit-text-stroke:0.14px #14301a;left:130.7px;width:240px;text-align:center;">0</div>
<div style="left:265.35px;top:205.3px;width:26.2px;height:9.1px;background:#c8f8ca;border-top:0.5px solid #a9c9ae;box-sizing:border-box;"></div>
<div class="t" style="top:197.13px;height:6.44px;line-height:6.44px;font-size:5.15px;color:#fff;-webkit-text-stroke:0.18px #fff;left:158.45px;width:240px;text-align:center;">29.8-35.2</div>
<div class="t" style="top:207.46px;height:6.88px;line-height:6.88px;font-size:5.5px;color:#14301a;-webkit-text-stroke:0.14px #14301a;left:158.45px;width:240px;text-align:center;">0</div>
<div style="left:293.1px;top:205.3px;width:26.2px;height:9.1px;background:#c8f8ca;border-top:0.5px solid #a9c9ae;box-sizing:border-box;"></div>
<div class="t" style="top:197.13px;height:6.44px;line-height:6.44px;font-size:5.15px;color:#fff;-webkit-text-stroke:0.18px #fff;left:186.2px;width:240px;text-align:center;">&gt; 35.2</div>
<div class="t" style="top:207.46px;height:6.88px;line-height:6.88px;font-size:5.5px;color:#14301a;-webkit-text-stroke:0.14px #14301a;left:186.2px;width:240px;text-align:center;">0</div>
<div class="t" style="top:263.75px;height:9.19px;line-height:9.19px;font-size:7.35px;color:#fff;-webkit-text-stroke:0.18px #fff;left:93.5px;width:300px;text-align:center;">counts are always given differential in [1/l]</div>
<div style="left:360px;top:31px;width:357.8px;height:250.4px;background:linear-gradient(#b9d1ea,#d3e2f2 12px,#c3d7ee);border:1px solid #5d6f86;box-sizing:border-box;border-radius:2px 2px 0 0;"></div>
<div style="left:363.9px;top:34px;width:4.8px;height:5px;background:#cf0f1c;border-radius:1px;"></div>
<div class="t" style="top:34.67px;height:5.16px;line-height:5.16px;font-size:4.13px;color:#10141c;-webkit-text-stroke:0.14px #10141c;left:370.2px;">Control GRIMM Spectrometer  |  Model: 11-D  |  s/n: 11D18R12  |  Program Revision: 1179 V2.04 (18-07-2019)</div>
<div style="left:679.8px;top:32px;width:21px;height:6.5px;background:linear-gradient(#dbe6f2,#b9c9dc);border:0.5px solid #93a3b8;border-radius:0 0 2px 2px;box-sizing:border-box;"></div>
<div style="left:700.3px;top:32px;width:14px;height:6.5px;background:linear-gradient(#e6bdb6,#d28c84);border:0.5px solid #a08484;border-radius:0 0 2px 2px;box-sizing:border-box;"></div>
<div style="left:363.4px;top:42px;width:351px;height:235.8px;background:#183ab6;"></div>
<div style="left:364.5px;top:43.4px;width:35px;height:10.6px;background:linear-gradient(#fdfdfd,#ececec);border-top:0.6px solid #fff;border-left:0.6px solid #fff;border-right:0.9px solid #5b5f68;border-bottom:0.9px solid #5b5f68;box-sizing:border-box;"></div>
<div class="t" style="top:45.69px;height:8.12px;line-height:8.12px;font-size:6.5px;color:#0a0a0a;left:262px;width:240px;text-align:center;">Control</div>
<div style="left:401px;top:43.4px;width:39.5px;height:10.6px;background:#6f8bdb;border-top:0.6px solid #8aa2e6;border-left:0.6px solid #8aa2e6;border-right:0.9px solid #3a55b0;border-bottom:0.9px solid #3a55b0;box-sizing:border-box;"></div>
<div class="t" style="top:45.69px;height:8.12px;line-height:8.12px;font-size:6.5px;color:#3452b4;left:300.75px;width:240px;text-align:center;">Overview</div>
<div style="left:442px;top:43.4px;width:45px;height:10.6px;background:#58ec1c;border:0.9px solid #2c8a12;box-sizing:border-box;"></div>
<div class="t" style="top:45.69px;height:8.12px;line-height:8.12px;font-size:6.5px;color:#0b4d08;left:344.5px;width:240px;text-align:center;">Distribution</div>
<div style="left:489px;top:43.4px;width:31px;height:10.6px;background:linear-gradient(#fdfdfd,#ececec);border-top:0.6px solid #fff;border-left:0.6px solid #fff;border-right:0.9px solid #5b5f68;border-bottom:0.9px solid #5b5f68;box-sizing:border-box;"></div>
<div class="t" style="top:45.69px;height:8.12px;line-height:8.12px;font-size:6.5px;color:#0a0a0a;left:384.5px;width:240px;text-align:center;">Table</div>
<div style="left:522.5px;top:43.4px;width:29px;height:10.6px;background:linear-gradient(#fdfdfd,#ececec);border-top:0.6px solid #fff;border-left:0.6px solid #fff;border-right:0.9px solid #5b5f68;border-bottom:0.9px solid #5b5f68;box-sizing:border-box;"></div>
<div class="t" style="top:45.69px;height:8.12px;line-height:8.12px;font-size:6.5px;color:#0a0a0a;left:417px;width:240px;text-align:center;">Time</div>
<div style="left:554px;top:43.4px;width:33.5px;height:10.6px;background:linear-gradient(#fdfdfd,#ececec);border-top:0.6px solid #fff;border-left:0.6px solid #fff;border-right:0.9px solid #5b5f68;border-bottom:0.9px solid #5b5f68;box-sizing:border-box;"></div>
<div class="t" style="top:45.69px;height:8.12px;line-height:8.12px;font-size:6.5px;color:#0a0a0a;left:450.75px;width:240px;text-align:center;">Statistic</div>
<div style="left:589.8px;top:43.4px;width:49px;height:10.6px;background:linear-gradient(#fdfdfd,#ececec);border-top:0.6px solid #fff;border-left:0.6px solid #fff;border-right:0.9px solid #5b5f68;border-bottom:0.9px solid #5b5f68;box-sizing:border-box;"></div>
<div class="t" style="top:45.69px;height:8.12px;line-height:8.12px;font-size:6.5px;color:#0a0a0a;left:494.3px;width:240px;text-align:center;">Save graphic</div>
<div style="left:641px;top:43.4px;width:29.2px;height:10.6px;background:#6f8bdb;border-top:0.6px solid #8aa2e6;border-left:0.6px solid #8aa2e6;border-right:0.9px solid #3a55b0;border-bottom:0.9px solid #3a55b0;box-sizing:border-box;"></div>
<div class="t" style="top:45.69px;height:8.12px;line-height:8.12px;font-size:6.5px;color:#3452b4;left:535.6px;width:240px;text-align:center;">Alarm</div>
<div style="left:672px;top:43.4px;width:41.6px;height:10.6px;background:linear-gradient(#fdfdfd,#ececec);border-top:0.6px solid #fff;border-left:0.6px solid #fff;border-right:0.9px solid #5b5f68;border-bottom:0.9px solid #5b5f68;box-sizing:border-box;"></div>
<div class="t" style="top:45.69px;height:8.12px;line-height:8.12px;font-size:6.5px;color:#0a0a0a;left:572.8px;width:240px;text-align:center;">Stop &amp; Exit</div>
<div style="left:364px;top:56px;width:39px;height:12.4px;background:#1d40ba;border:0.6px solid #3353c6;box-sizing:border-box;"></div>
<div class="t" style="top:59.29px;height:8.12px;line-height:8.12px;font-size:6.5px;color:#fff;-webkit-text-stroke:0.18px #fff;left:263.5px;width:240px;text-align:center;">dN/dlog(dp)</div>
<div style="left:405px;top:56px;width:40px;height:12.4px;background:#2548c4;border:0.6px solid #3353c6;box-sizing:border-box;"></div>
<div class="t" style="top:59.29px;height:8.12px;line-height:8.12px;font-size:6.5px;color:#fff;-webkit-text-stroke:0.18px #fff;left:305px;width:240px;text-align:center;">dS/dlog(dp)</div>
<div style="left:447.5px;top:56px;width:40px;height:12.4px;background:#1d40ba;border:0.6px solid #3353c6;box-sizing:border-box;"></div>
<div class="t" style="top:59.29px;height:8.12px;line-height:8.12px;font-size:6.5px;color:#fff;-webkit-text-stroke:0.18px #fff;left:347.5px;width:240px;text-align:center;">dM/dlog(dp)</div>
<div style="left:509px;top:55.3px;width:85.5px;height:2.7px;background:#343945;"></div>
<div style="left:508.7px;top:57.2px;width:1.1px;height:10.4px;background:#a4f27a;"></div>
<div style="left:592.9px;top:64.2px;width:1.1px;height:3.2px;background:#9fb4ee;"></div>
<div class="t" style="top:58.32px;height:9.06px;line-height:9.06px;font-size:7.25px;color:#fff;-webkit-text-stroke:0.18px #fff;left:612.5px;">dt (mean)</div>
<div style="left:646px;top:56.6px;width:36px;height:10.8px;background:linear-gradient(#eeeeee,#e0e0e0);border-bottom:0.6px solid #b8b8b8;box-sizing:border-box;"></div>
<div class="t" style="top:58.71px;height:8.69px;line-height:8.69px;font-size:6.95px;color:#101010;left:653.6px;-webkit-text-stroke:0.2px #101010;">60 min</div>
<svg style="left:676.6px;top:61.1px" width="4.2" height="2.6" viewBox="0 0 5 3"><path d="M0 0H5L2.5 3Z" fill="#111"/></svg>
<div style="left:689px;top:56.6px;width:25px;height:10.8px;background:#fff;"></div>
<div class="t" style="top:57.74px;height:4.62px;line-height:4.62px;font-size:3.7px;color:#222;-webkit-text-stroke:0.14px #222;left:473.1px;width:240px;text-align:right;">09:25:32</div>
<div class="t" style="top:61.94px;height:4.62px;line-height:4.62px;font-size:3.7px;color:#222;-webkit-text-stroke:0.14px #222;left:473.1px;width:240px;text-align:right;">26/07/2019</div>
<div style="left:363.4px;top:69.8px;width:351px;height:208.6px;background:#fff;border:0.7px solid #8297c8;border-top:none;box-sizing:border-box;"></div>
<div style="left:406px;top:73.3px;width:8px;height:8px;background:#fff;border:0.6px solid #8c8c8c;box-sizing:border-box;"></div>
<svg style="left:406px;top:73.3px" width="8" height="8" viewBox="0 0 8 8"><path d="M0.8 0.8L7.2 7.2M7.2 0.8L0.8 7.2" stroke="#6e6e6e" stroke-width="0.6" fill="none"/></svg>
<div class="t" style="top:74.97px;height:6.75px;line-height:6.75px;font-size:5.4px;color:#222;-webkit-text-stroke:0.14px #222;left:418px;">Y log scale</div>
<svg style="left:0;top:0" width="720" height="690" viewBox="0 0 720 690">
<rect x="404.5" y="83.5" width="295.5" height="173.1" fill="#f8f8f8"/>
<path d="M434.62 83.5V256.6M451.95 83.5V256.6M464.24 83.5V256.6M473.78 83.5V256.6M481.57 83.5V256.6M488.16 83.5V256.6M493.86 83.5V256.6M498.9 83.5V256.6M533.02 83.5V256.6M550.35 83.5V256.6M562.64 83.5V256.6M572.18 83.5V256.6M579.97 83.5V256.6M586.56 83.5V256.6M592.26 83.5V256.6M597.3 83.5V256.6M631.42 83.5V256.6M648.75 83.5V256.6M661.04 83.5V256.6M670.58 83.5V256.6M678.37 83.5V256.6M684.96 83.5V256.6M690.66 83.5V256.6M695.7 83.5V256.6" stroke="#dcdcdc" stroke-width="0.8" fill="none"/>
<path d="M503.4 83.5V256.6M601.8 83.5V256.6" stroke="#9c9c9c" stroke-width="1" fill="none"/>
<path d="M404.5 84.3H700M404.5 122.5H700M404.5 180.5H700M404.5 238.5H700M404.5 256.6H700" stroke="#b4b4b4" stroke-width="0.8" fill="none"/>
<path d="M404.5 83.5V256.6H700" stroke="#b4b4b4" stroke-width="0.8" fill="none"/>
<path d="M700 83.5V256.6" stroke="#c8c8c8" stroke-width="0.8" fill="none"/>
<path d="M547 83.5V256.6" stroke="#6a6a6a" stroke-width="1.3" fill="none"/>
<path d="M446 256.6V85h6.1V256.6ZM453 256.6V98.75h6.1V256.6ZM460 256.6V107h6.1V256.6ZM467 256.6V115.75h6.1V256.6ZM474 256.6V144.25h6.1V256.6ZM481 256.6V166.25h6.1V256.6ZM488 256.6V190h6.1V256.6ZM495 256.6V208.25h6.1V256.6ZM502 256.6V203.75h6.1V256.6ZM509 256.6V202h6.1V256.6ZM516 256.6V196.25h6.1V256.6ZM523 256.6V187h6.1V256.6ZM530 256.6V188.8h6.1V256.6ZM537 256.6V173.8h6.1V256.6ZM544 256.6V165.9h6.1V256.6ZM551 256.6V160.3h6.1V256.6ZM558 256.6V166.9h6.1V256.6ZM565 256.6V165.1h6.1V256.6ZM572 256.6V168.8h6.1V256.6ZM579 256.6V174.8h6.1V256.6ZM586 256.6V171.4h6.1V256.6ZM593 256.6V166.9h6.1V256.6ZM600 256.6V155h6.1V256.6ZM607 256.6V159.8h6.1V256.6ZM614 256.6V165.9h6.1V256.6ZM621 256.6V170.6h6.1V256.6ZM628 256.6V190.1h6.1V256.6ZM635 256.6V164.3h6.1V256.6ZM656 256.6V157.2h6.1V256.6Z" fill="#0a3cd6"/>
<path d="M434.62 256.6v1.6M451.95 256.6v1.6M464.24 256.6v1.6M473.78 256.6v1.6M481.57 256.6v1.6M488.16 256.6v1.6M493.86 256.6v1.6M498.9 256.6v1.6M533.02 256.6v1.6M550.35 256.6v1.6M562.64 256.6v1.6M572.18 256.6v1.6M579.97 256.6v1.6M586.56 256.6v1.6M592.26 256.6v1.6M597.3 256.6v1.6M631.42 256.6v1.6M648.75 256.6v1.6M661.04 256.6v1.6M670.58 256.6v1.6M678.37 256.6v1.6M684.96 256.6v1.6M690.66 256.6v1.6M695.7 256.6v1.6M405 256.6v1.6M503.4 256.6v1.6M601.8 256.6v1.6M700.2 256.6v1.6" stroke="#9a9a9a" stroke-width="0.6" fill="none"/>
<rect x="688" y="75.3" width="10" height="6.5" fill="#fff"/>
<path d="M688.8 79.9h2.8v-2.6h2.8v2.2h2.8v-2.2" stroke="#0a3cd6" stroke-width="1.8" fill="none"/>
<path d="M688.8 76.9h2.2M694.6 80.7h2.4" stroke="#222" stroke-width="1.2" fill="none"/>
<rect x="681" y="271" width="6.4" height="5.4" fill="#3c3c3c"/>
<path d="M682.2 272.9h3.8M682.2 274.7h3.8M684.1 272v3.8" stroke="#c8c8c8" stroke-width="0.7" fill="none"/>
<rect x="688.4" y="271" width="6.1" height="5.4" fill="#6a6a6a"/>
<path d="M689.6 272.9h3.8M689.6 274.7h3.8M691.5 272v3.8" stroke="#c8c8c8" stroke-width="0.7" fill="none"/>
<rect x="695.8" y="271" width="5.8" height="5.4" fill="#4c4c4c"/>
<path d="M697 272.9h3.8M697 274.7h3.8M698.9 272v3.8" stroke="#c8c8c8" stroke-width="0.7" fill="none"/>
</svg>
<div class="t" style="top:81.88px;height:6.94px;line-height:6.94px;font-size:5.55px;color:#222;-webkit-text-stroke:0.14px #222;left:162.1px;width:240px;text-align:right;">0,4750</div>
<div class="t" style="top:120.08px;height:6.94px;line-height:6.94px;font-size:5.55px;color:#222;-webkit-text-stroke:0.14px #222;left:162.1px;width:240px;text-align:right;">0,1000</div>
<div class="t" style="top:178.08px;height:6.94px;line-height:6.94px;font-size:5.55px;color:#222;-webkit-text-stroke:0.14px #222;left:162.1px;width:240px;text-align:right;">0,0100</div>
<div class="t" style="top:236.08px;height:6.94px;line-height:6.94px;font-size:5.55px;color:#222;-webkit-text-stroke:0.14px #222;left:162.1px;width:240px;text-align:right;">0,0010</div>
<div class="t" style="top:254.18px;height:6.94px;line-height:6.94px;font-size:5.55px;color:#222;-webkit-text-stroke:0.14px #222;left:162.1px;width:240px;text-align:right;">0,0005</div>
<div class="t" style="top:260.28px;height:6.94px;line-height:6.94px;font-size:5.55px;color:#222;-webkit-text-stroke:0.14px #222;left:286.2px;width:240px;text-align:center;">0,1</div>
<div class="t" style="top:260.28px;height:6.94px;line-height:6.94px;font-size:5.55px;color:#222;-webkit-text-stroke:0.14px #222;left:383.4px;width:240px;text-align:center;">1</div>
<div class="t" style="top:260.28px;height:6.94px;line-height:6.94px;font-size:5.55px;color:#222;-webkit-text-stroke:0.14px #222;left:481.8px;width:240px;text-align:center;">10</div>
<div class="t" style="top:260.28px;height:6.94px;line-height:6.94px;font-size:5.55px;color:#222;-webkit-text-stroke:0.14px #222;left:580.2px;width:240px;text-align:center;">100</div>
<div class="t" style="top:267.32px;height:11.06px;line-height:11.06px;font-size:8.85px;color:#151515;left:503.5px;">particle diameter [um]</div>
<svg style="left:0;top:0" width="720" height="690" viewBox="0 0 720 690"><text x="380.4" y="167.2" transform="rotate(-90 380.4 167.2)" text-anchor="middle" dy="3.41" font-family="Liberation Sans, sans-serif" font-size="9.6" fill="#151515">dS/dlog(dp) [mm²/l]</text></svg>
<div class="t" style="top:77.35px;height:5px;line-height:5px;font-size:4px;color:#222;-webkit-text-stroke:0.14px #222;left:444.5px;width:240px;text-align:right;">dS/dlog(dp)</div>
<div style="left:0.2px;top:329.5px;width:357.8px;height:250.1px;background:linear-gradient(#b9d1ea,#d3e2f2 12px,#c3d7ee);border:1px solid #5d6f86;box-sizing:border-box;border-radius:2px 2px 0 0;"></div>
<div style="left:4.1px;top:332.5px;width:4.8px;height:5px;background:#cf0f1c;border-radius:1px;"></div>
<div class="t" style="top:333.02px;height:5.46px;line-height:5.46px;font-size:4.37px;color:#10141c;-webkit-text-stroke:0.14px #10141c;left:10.4px;">Control GRIMM Spectrometer  |  Model: 11-D  |  s/n: 11D18R12  |  Program Revision: 1179 V2.04 (18-07-2019)</div>
<div style="left:320px;top:330.5px;width:21px;height:6.5px;background:linear-gradient(#dbe6f2,#b9c9dc);border:0.5px solid #93a3b8;border-radius:0 0 2px 2px;box-sizing:border-box;"></div>
<div style="left:340.5px;top:330.5px;width:14px;height:6.5px;background:linear-gradient(#e6bdb6,#d28c84);border:0.5px solid #a08484;border-radius:0 0 2px 2px;box-sizing:border-box;"></div>
<div style="left:3.6px;top:340.5px;width:351px;height:235.5px;background:#183ab6;"></div>
<div style="left:4.5px;top:341.9px;width:35px;height:10.6px;background:linear-gradient(#fdfdfd,#ececec);border-top:0.6px solid #fff;border-left:0.6px solid #fff;border-right:0.9px solid #5b5f68;border-bottom:0.9px solid #5b5f68;box-sizing:border-box;"></div>
<div class="t" style="top:344.19px;height:8.12px;line-height:8.12px;font-size:6.5px;color:#0a0a0a;left:-98px;width:240px;text-align:center;">Control</div>
<div style="left:41px;top:341.9px;width:41px;height:10.6px;background:#6f8bdb;border-top:0.6px solid #8aa2e6;border-left:0.6px solid #8aa2e6;border-right:0.9px solid #3a55b0;border-bottom:0.9px solid #3a55b0;box-sizing:border-box;"></div>
<div class="t" style="top:344.19px;height:8.12px;line-height:8.12px;font-size:6.5px;color:#3452b4;left:-58.5px;width:240px;text-align:center;">Overview</div>
<div style="left:83px;top:341.9px;width:44px;height:10.6px;background:#58ec1c;border:0.9px solid #2c8a12;box-sizing:border-box;"></div>
<div class="t" style="top:344.19px;height:8.12px;line-height:8.12px;font-size:6.5px;color:#0b4d08;left:-15px;width:240px;text-align:center;">Distribution</div>
<div style="left:129px;top:341.9px;width:31px;height:10.6px;background:linear-gradient(#fdfdfd,#ececec);border-top:0.6px solid #fff;border-left:0.6px solid #fff;border-right:0.9px solid #5b5f68;border-bottom:0.9px solid #5b5f68;box-sizing:border-box;"></div>
<div class="t" style="top:344.19px;height:8.12px;line-height:8.12px;font-size:6.5px;color:#0a0a0a;left:24.5px;width:240px;text-align:center;">Table</div>
<div style="left:162px;top:341.9px;width:29.6px;height:10.6px;background:linear-gradient(#fdfdfd,#ececec);border-top:0.6px solid #fff;border-left:0.6px solid #fff;border-right:0.9px solid #5b5f68;border-bottom:0.9px solid #5b5f68;box-sizing:border-box;"></div>
<div class="t" style="top:344.19px;height:8.12px;line-height:8.12px;font-size:6.5px;color:#0a0a0a;left:56.8px;width:240px;text-align:center;">Time</div>
<div style="left:193.7px;top:341.9px;width:33px;height:10.6px;background:linear-gradient(#fdfdfd,#ececec);border-top:0.6px solid #fff;border-left:0.6px solid #fff;border-right:0.9px solid #5b5f68;border-bottom:0.9px solid #5b5f68;box-sizing:border-box;"></div>
<div class="t" style="top:344.19px;height:8.12px;line-height:8.12px;font-size:6.5px;color:#0a0a0a;left:90.2px;width:240px;text-align:center;">Statistic</div>
<div style="left:228.6px;top:341.9px;width:50.4px;height:10.6px;background:linear-gradient(#fdfdfd,#ececec);border-top:0.6px solid #fff;border-left:0.6px solid #fff;border-right:0.9px solid #5b5f68;border-bottom:0.9px solid #5b5f68;box-sizing:border-box;"></div>
<div class="t" style="top:344.19px;height:8.12px;line-height:8.12px;font-size:6.5px;color:#0a0a0a;left:133.8px;width:240px;text-align:center;">Save graphic</div>
<div style="left:280.8px;top:341.9px;width:29.1px;height:10.6px;background:#6f8bdb;border-top:0.6px solid #8aa2e6;border-left:0.6px solid #8aa2e6;border-right:0.9px solid #3a55b0;border-bottom:0.9px solid #3a55b0;box-sizing:border-box;"></div>
<div class="t" style="top:344.19px;height:8.12px;line-height:8.12px;font-size:6.5px;color:#3452b4;left:175.35px;width:240px;text-align:center;">Alarm</div>
<div style="left:311.7px;top:341.9px;width:42.3px;height:10.6px;background:linear-gradient(#fdfdfd,#ececec);border-top:0.6px solid #fff;border-left:0.6px solid #fff;border-right:0.9px solid #5b5f68;border-bottom:0.9px solid #5b5f68;box-sizing:border-box;"></div>
<div class="t" style="top:344.19px;height:8.12px;line-height:8.12px;font-size:6.5px;color:#0a0a0a;left:212.85px;width:240px;text-align:center;">Stop &amp; Exit</div>
<div style="left:3.8px;top:355px;width:39.2px;height:11.6px;background:#2548c4;border:0.6px solid #3353c6;box-sizing:border-box;"></div>
<div class="t" style="top:357.89px;height:8.12px;line-height:8.12px;font-size:6.5px;color:#fff;-webkit-text-stroke:0.18px #fff;left:-96.6px;width:240px;text-align:center;">dN/dlog(dp)</div>
<div style="left:45px;top:355px;width:40px;height:11.6px;background:#1d40ba;border:0.6px solid #3353c6;box-sizing:border-box;"></div>
<div class="t" style="top:357.89px;height:8.12px;line-height:8.12px;font-size:6.5px;color:#fff;-webkit-text-stroke:0.18px #fff;left:-55px;width:240px;text-align:center;">dS/dlog(dp)</div>
<div style="left:87.5px;top:355px;width:40px;height:11.6px;background:#1d40ba;border:0.6px solid #3353c6;box-sizing:border-box;"></div>
<div class="t" style="top:357.89px;height:8.12px;line-height:8.12px;font-size:6.5px;color:#fff;-webkit-text-stroke:0.18px #fff;left:-12.5px;width:240px;text-align:center;">dM/dlog(dp)</div>
<div style="left:149px;top:354.3px;width:85.7px;height:2.7px;background:#343945;"></div>
<div style="left:148.7px;top:356.2px;width:1.1px;height:9.6px;background:#a4f27a;"></div>
<div style="left:233.1px;top:362.4px;width:1.1px;height:3.2px;background:#9fb4ee;"></div>
<div class="t" style="top:356.92px;height:9.06px;line-height:9.06px;font-size:7.25px;color:#fff;-webkit-text-stroke:0.18px #fff;left:252.3px;">dt (mean)</div>
<div style="left:286.7px;top:355.5px;width:36.3px;height:10.1px;background:linear-gradient(#eeeeee,#e0e0e0);border-bottom:0.6px solid #b8b8b8;box-sizing:border-box;"></div>
<div class="t" style="top:357.25px;height:8.69px;line-height:8.69px;font-size:6.95px;color:#101010;left:294.3px;-webkit-text-stroke:0.2px #101010;">60 min</div>
<svg style="left:317.6px;top:359.65px" width="4.2" height="2.6" viewBox="0 0 5 3"><path d="M0 0H5L2.5 3Z" fill="#111"/></svg>
<div style="left:329px;top:355.5px;width:25px;height:10.1px;background:#fff;"></div>
<div class="t" style="top:356.64px;height:4.62px;line-height:4.62px;font-size:3.7px;color:#222;-webkit-text-stroke:0.14px #222;left:113.1px;width:240px;text-align:right;">09:25:32</div>
<div class="t" style="top:360.84px;height:4.62px;line-height:4.62px;font-size:3.7px;color:#222;-webkit-text-stroke:0.14px #222;left:113.1px;width:240px;text-align:right;">26/07/2019</div>
<div style="left:3.6px;top:368.6px;width:351px;height:207.8px;background:#fff;border:0.7px solid #8297c8;border-top:none;box-sizing:border-box;"></div>
<div style="left:40px;top:371.8px;width:7.2px;height:7.2px;background:#fff;border:0.6px solid #8c8c8c;box-sizing:border-box;"></div>
<svg style="left:40px;top:371.8px" width="7.2" height="7.2" viewBox="0 0 8 8"><path d="M0.8 0.8L7.2 7.2M7.2 0.8L0.8 7.2" stroke="#6e6e6e" stroke-width="0.6" fill="none"/></svg>
<div class="t" style="top:373.07px;height:6.75px;line-height:6.75px;font-size:5.4px;color:#222;-webkit-text-stroke:0.14px #222;left:51.2px;">Y-log scale</div>
<svg style="left:0;top:0" width="720" height="690" viewBox="0 0 720 690">
<rect x="50" y="381.6" width="297.6" height="173.6" fill="#f8f8f8"/>
<path d="M79.86 381.6V555.2M97.33 381.6V555.2M109.72 381.6V555.2M119.34 381.6V555.2M127.19 381.6V555.2M133.83 381.6V555.2M139.59 381.6V555.2M144.66 381.6V555.2M179.06 381.6V555.2M196.53 381.6V555.2M208.92 381.6V555.2M218.54 381.6V555.2M226.39 381.6V555.2M233.03 381.6V555.2M238.79 381.6V555.2M243.86 381.6V555.2M278.26 381.6V555.2M295.73 381.6V555.2M308.12 381.6V555.2M317.74 381.6V555.2M325.59 381.6V555.2M332.23 381.6V555.2M337.99 381.6V555.2M343.06 381.6V555.2" stroke="#dcdcdc" stroke-width="0.8" fill="none"/>
<path d="M149.2 381.6V555.2M248.4 381.6V555.2" stroke="#9c9c9c" stroke-width="1" fill="none"/>
<path d="M50 381.6H347.6M50 406.4H347.6M50 431.2H347.6M50 456H347.6M50 480.8H347.6M50 505.6H347.6M50 530.4H347.6M50 555.2H347.6" stroke="#b4b4b4" stroke-width="0.8" fill="none"/>
<path d="M50 381.6V555.2H347.6" stroke="#b4b4b4" stroke-width="0.8" fill="none"/>
<path d="M347.6 381.6V555.2" stroke="#c8c8c8" stroke-width="0.8" fill="none"/>
<path d="M94.5 381.6V555.2" stroke="#6a6a6a" stroke-width="1.3" fill="none"/>
<path d="M92 555.2V399.5h6.1V555.2ZM99 555.2V409.5h6.1V555.2ZM106 555.2V416.75h6.1V555.2ZM113 555.2V423.75h6.1V555.2ZM120 555.2V439.5h6.1V555.2ZM127 555.2V452.5h6.1V555.2ZM134 555.2V466.25h6.1V555.2ZM141 555.2V477.5h6.1V555.2ZM148 555.2V479.25h6.1V555.2ZM155 555.2V481.5h6.1V555.2ZM162 555.2V483h6.1V555.2ZM169 555.2V482.4h6.1V555.2ZM176 555.2V486.6h6.1V555.2ZM183 555.2V484h6.1V555.2ZM190 555.2V484h6.1V555.2ZM197 555.2V485h6.1V555.2ZM204 555.2V491.1h6.1V555.2ZM211 555.2V494.3h6.1V555.2ZM218 555.2V499h6.1V555.2ZM225 555.2V505.1h6.1V555.2ZM232 555.2V507.7h6.1V555.2ZM239 555.2V508.8h6.1V555.2ZM246 555.2V507.7h6.1V555.2ZM253 555.2V513h6.1V555.2ZM260 555.2V519.4h6.1V555.2ZM267 555.2V524.9h6.1V555.2ZM274 555.2V536.5h6.1V555.2ZM281 555.2V529.4h6.1V555.2ZM302 555.2V536.5h6.1V555.2Z" fill="#f30a0a"/>
<path d="M79.86 555.2v1.6M97.33 555.2v1.6M109.72 555.2v1.6M119.34 555.2v1.6M127.19 555.2v1.6M133.83 555.2v1.6M139.59 555.2v1.6M144.66 555.2v1.6M179.06 555.2v1.6M196.53 555.2v1.6M208.92 555.2v1.6M218.54 555.2v1.6M226.39 555.2v1.6M233.03 555.2v1.6M238.79 555.2v1.6M243.86 555.2v1.6M278.26 555.2v1.6M295.73 555.2v1.6M308.12 555.2v1.6M317.74 555.2v1.6M325.59 555.2v1.6M332.23 555.2v1.6M337.99 555.2v1.6M343.06 555.2v1.6M50 555.2v1.6M149.2 555.2v1.6M248.4 555.2v1.6M347.6 555.2v1.6" stroke="#9a9a9a" stroke-width="0.6" fill="none"/>
<rect x="336.8" y="371.8" width="10" height="6.5" fill="#fff"/>
<path d="M337.6 376.4h2.8v-2.6h2.8v2.2h2.8v-2.2" stroke="#f30a0a" stroke-width="1.8" fill="none"/>
<path d="M337.6 373.4h2.2M343.4 377.2h2.4" stroke="#222" stroke-width="1.2" fill="none"/>
<rect x="325" y="567.9" width="6.4" height="5.4" fill="#3c3c3c"/>
<path d="M326.2 569.8h3.8M326.2 571.6h3.8M328.1 568.9v3.8" stroke="#c8c8c8" stroke-width="0.7" fill="none"/>
<rect x="332.4" y="567.9" width="6.1" height="5.4" fill="#6a6a6a"/>
<path d="M333.6 569.8h3.8M333.6 571.6h3.8M335.5 568.9v3.8" stroke="#c8c8c8" stroke-width="0.7" fill="none"/>
<rect x="339.8" y="567.9" width="5.8" height="5.4" fill="#4c4c4c"/>
<path d="M341 569.8h3.8M341 571.6h3.8M342.9 568.9v3.8" stroke="#c8c8c8" stroke-width="0.7" fill="none"/>
</svg>
<div class="t" style="top:379.18px;height:6.94px;line-height:6.94px;font-size:5.55px;color:#222;-webkit-text-stroke:0.14px #222;left:-192.4px;width:240px;text-align:right;">10000000</div>
<div class="t" style="top:403.98px;height:6.94px;line-height:6.94px;font-size:5.55px;color:#222;-webkit-text-stroke:0.14px #222;left:-192.4px;width:240px;text-align:right;">1000000</div>
<div class="t" style="top:428.78px;height:6.94px;line-height:6.94px;font-size:5.55px;color:#222;-webkit-text-stroke:0.14px #222;left:-192.4px;width:240px;text-align:right;">100000</div>
<div class="t" style="top:453.58px;height:6.94px;line-height:6.94px;font-size:5.55px;color:#222;-webkit-text-stroke:0.14px #222;left:-192.4px;width:240px;text-align:right;">10000</div>
<div class="t" style="top:478.38px;height:6.94px;line-height:6.94px;font-size:5.55px;color:#222;-webkit-text-stroke:0.14px #222;left:-192.4px;width:240px;text-align:right;">1000</div>
<div class="t" style="top:503.18px;height:6.94px;line-height:6.94px;font-size:5.55px;color:#222;-webkit-text-stroke:0.14px #222;left:-192.4px;width:240px;text-align:right;">100</div>
<div class="t" style="top:527.98px;height:6.94px;line-height:6.94px;font-size:5.55px;color:#222;-webkit-text-stroke:0.14px #222;left:-192.4px;width:240px;text-align:right;">10</div>
<div class="t" style="top:552.78px;height:6.94px;line-height:6.94px;font-size:5.55px;color:#222;-webkit-text-stroke:0.14px #222;left:-192.4px;width:240px;text-align:right;">1</div>
<div class="t" style="top:558.38px;height:6.94px;line-height:6.94px;font-size:5.55px;color:#222;-webkit-text-stroke:0.14px #222;left:-68.8px;width:240px;text-align:center;">0,1</div>
<div class="t" style="top:558.38px;height:6.94px;line-height:6.94px;font-size:5.55px;color:#222;-webkit-text-stroke:0.14px #222;left:29.2px;width:240px;text-align:center;">1</div>
<div class="t" style="top:558.38px;height:6.94px;line-height:6.94px;font-size:5.55px;color:#222;-webkit-text-stroke:0.14px #222;left:128.4px;width:240px;text-align:center;">10</div>
<div class="t" style="top:558.38px;height:6.94px;line-height:6.94px;font-size:5.55px;color:#222;-webkit-text-stroke:0.14px #222;left:227.6px;width:240px;text-align:center;">100</div>
<div class="t" style="top:565.12px;height:11.06px;line-height:11.06px;font-size:8.85px;color:#151515;left:151px;">particle diameter [um]</div>
<svg style="left:0;top:0" width="720" height="690" viewBox="0 0 720 690"><text x="18.2" y="465.8" transform="rotate(-90 18.2 465.8)" text-anchor="middle" dy="3.18" font-family="Liberation Sans, sans-serif" font-size="8.95" fill="#151515">dN/dlog(dp) [1/l]</text></svg>
<div class="t" style="top:373.75px;height:5px;line-height:5px;font-size:4px;color:#222;-webkit-text-stroke:0.14px #222;left:92.4px;width:240px;text-align:right;">dN/dlog(dp)</div>
<div style="left:362px;top:329.5px;width:357.6px;height:250.1px;background:linear-gradient(#b9d1ea,#d3e2f2 12px,#c3d7ee);border:1px solid #5d6f86;box-sizing:border-box;border-radius:2px 2px 0 0;"></div>
<div style="left:365.9px;top:332.5px;width:4.8px;height:5px;background:#cf0f1c;border-radius:1px;"></div>
<div class="t" style="top:333.17px;height:5.16px;line-height:5.16px;font-size:4.13px;color:#10141c;-webkit-text-stroke:0.14px #10141c;left:372.2px;">Control GRIMM Spectrometer  |  Model: 11-D  |  SN: 11D18R12  |  Program Revision: 1179 V2.01 (08-05-2019)</div>
<div style="left:681.6px;top:330.5px;width:21px;height:6.5px;background:linear-gradient(#dbe6f2,#b9c9dc);border:0.5px solid #93a3b8;border-radius:0 0 2px 2px;box-sizing:border-box;"></div>
<div style="left:702.1px;top:330.5px;width:14px;height:6.5px;background:linear-gradient(#e6bdb6,#d28c84);border:0.5px solid #a08484;border-radius:0 0 2px 2px;box-sizing:border-box;"></div>
<div style="left:365.4px;top:339.8px;width:350.9px;height:236.4px;background:#183ab6;"></div>
<div style="left:367px;top:340.4px;width:34px;height:11px;background:linear-gradient(#fdfdfd,#ececec);border-top:0.6px solid #fff;border-left:0.6px solid #fff;border-right:0.9px solid #5b5f68;border-bottom:0.9px solid #5b5f68;box-sizing:border-box;"></div>
<div class="t" style="top:342.89px;height:8.12px;line-height:8.12px;font-size:6.5px;color:#0a0a0a;left:264px;width:240px;text-align:center;">Control</div>
<div style="left:403px;top:340.4px;width:40px;height:11px;background:linear-gradient(#fdfdfd,#ececec);border-top:0.6px solid #fff;border-left:0.6px solid #fff;border-right:0.9px solid #5b5f68;border-bottom:0.9px solid #5b5f68;box-sizing:border-box;"></div>
<div class="t" style="top:342.89px;height:8.12px;line-height:8.12px;font-size:6.5px;color:#0a0a0a;left:303px;width:240px;text-align:center;">Overview</div>
<div style="left:445px;top:340.4px;width:43px;height:11px;background:linear-gradient(#fdfdfd,#ececec);border-top:0.6px solid #fff;border-left:0.6px solid #fff;border-right:0.9px solid #5b5f68;border-bottom:0.9px solid #5b5f68;box-sizing:border-box;"></div>
<div class="t" style="top:342.89px;height:8.12px;line-height:8.12px;font-size:6.5px;color:#0a0a0a;left:346.5px;width:240px;text-align:center;">Distribution</div>
<div style="left:490px;top:340.4px;width:32.5px;height:11px;background:linear-gradient(#fdfdfd,#ececec);border-top:0.6px solid #fff;border-left:0.6px solid #fff;border-right:0.9px solid #5b5f68;border-bottom:0.9px solid #5b5f68;box-sizing:border-box;"></div>
<div class="t" style="top:342.89px;height:8.12px;line-height:8.12px;font-size:6.5px;color:#0a0a0a;left:386.25px;width:240px;text-align:center;">Table</div>
<div style="left:523.8px;top:340.4px;width:31.2px;height:11px;background:#58ec1c;border:0.9px solid #2c8a12;box-sizing:border-box;"></div>
<div class="t" style="top:342.89px;height:8.12px;line-height:8.12px;font-size:6.5px;color:#0b4d08;left:419.4px;width:240px;text-align:center;">Time</div>
<div style="left:557px;top:340.4px;width:31px;height:11px;background:linear-gradient(#fdfdfd,#ececec);border-top:0.6px solid #fff;border-left:0.6px solid #fff;border-right:0.9px solid #5b5f68;border-bottom:0.9px solid #5b5f68;box-sizing:border-box;"></div>
<div class="t" style="top:342.89px;height:8.12px;line-height:8.12px;font-size:6.5px;color:#0a0a0a;left:452.5px;width:240px;text-align:center;">Statistic</div>
<div style="left:590px;top:340.4px;width:50.3px;height:11px;background:linear-gradient(#fdfdfd,#ececec);border-top:0.6px solid #fff;border-left:0.6px solid #fff;border-right:0.9px solid #5b5f68;border-bottom:0.9px solid #5b5f68;box-sizing:border-box;"></div>
<div class="t" style="top:342.89px;height:8.12px;line-height:8.12px;font-size:6.5px;color:#0a0a0a;left:495.15px;width:240px;text-align:center;">Save graphic</div>
<div style="left:642.7px;top:340.4px;width:28.5px;height:11px;background:linear-gradient(#fdfdfd,#ececec);border-top:0.6px solid #fff;border-left:0.6px solid #fff;border-right:0.9px solid #5b5f68;border-bottom:0.9px solid #5b5f68;box-sizing:border-box;"></div>
<div class="t" style="top:342.89px;height:8.12px;line-height:8.12px;font-size:6.5px;color:#0a0a0a;left:536.95px;width:240px;text-align:center;">Alarm</div>
<div style="left:673.3px;top:340.4px;width:41.3px;height:11px;background:linear-gradient(#fdfdfd,#ececec);border-top:0.6px solid #fff;border-left:0.6px solid #fff;border-right:0.9px solid #5b5f68;border-bottom:0.9px solid #5b5f68;box-sizing:border-box;"></div>
<div class="t" style="top:342.89px;height:8.12px;line-height:8.12px;font-size:6.5px;color:#0a0a0a;left:573.95px;width:240px;text-align:center;">Stop &amp; Exit</div>
<div style="left:368.5px;top:353.7px;width:50.3px;height:11px;background:#1d40ba;border:0.6px solid #3151c4;box-sizing:border-box;"></div>
<div class="t" style="top:355.9px;height:8.69px;line-height:8.69px;font-size:6.95px;color:#fff;font-weight:bold;left:273.65px;width:240px;text-align:center;">Counts / Mass</div>
<div style="left:420.8px;top:353.7px;width:15.7px;height:11px;background:#284ac6;border:0.6px solid #3151c4;box-sizing:border-box;"></div>
<div class="t" style="top:355.9px;height:8.69px;line-height:8.69px;font-size:6.95px;color:#fff;font-weight:bold;left:308.65px;width:240px;text-align:center;">PM</div>
<div style="left:438.8px;top:353.7px;width:16.8px;height:11px;background:#1d40ba;border:0.6px solid #3151c4;box-sizing:border-box;"></div>
<div class="t" style="top:355.9px;height:8.69px;line-height:8.69px;font-size:6.95px;color:#fff;font-weight:bold;left:327.2px;width:240px;text-align:center;">IAQ</div>
<div style="left:458.6px;top:353.7px;width:39px;height:11px;background:#1d40ba;border:0.6px solid #3151c4;box-sizing:border-box;"></div>
<div class="t" style="top:355.9px;height:8.69px;line-height:8.69px;font-size:6.95px;color:#fff;font-weight:bold;left:358.1px;width:240px;text-align:center;">Temp. [°C]</div>
<div style="left:500px;top:353.7px;width:24.6px;height:11px;background:#1d40ba;border:0.6px solid #3151c4;box-sizing:border-box;"></div>
<div class="t" style="top:355.9px;height:8.69px;line-height:8.69px;font-size:6.95px;color:#fff;font-weight:bold;left:392.3px;width:240px;text-align:center;">rH [%]</div>
<div style="left:527.4px;top:353.7px;width:54.2px;height:11px;background:#1d40ba;border:0.6px solid #3151c4;box-sizing:border-box;"></div>
<div class="t" style="top:355.9px;height:8.69px;line-height:8.69px;font-size:6.95px;color:#fff;font-weight:bold;left:434.5px;width:240px;text-align:center;">Pressure [hPa]</div>
<div style="left:584px;top:353.7px;width:42px;height:11px;background:#1d40ba;border:0.6px solid #3151c4;box-sizing:border-box;"></div>
<div class="t" style="top:355.9px;height:8.69px;line-height:8.69px;font-size:6.95px;color:#fff;font-weight:bold;left:485px;width:240px;text-align:center;">Weight [ug]</div>
<div style="left:628.6px;top:353.7px;width:37.4px;height:11px;background:#1d40ba;border:0.6px solid #3151c4;box-sizing:border-box;"></div>
<div class="t" style="top:355.9px;height:8.69px;line-height:8.69px;font-size:6.95px;color:#fff;font-weight:bold;left:527.3px;width:240px;text-align:center;">Volume [l]</div>
<div style="left:368px;top:366px;width:348.3px;height:207.9px;background:#fff;border-right:0.7px solid #8297c8;box-sizing:border-box;"></div>
<div style="left:384px;top:368.4px;width:7.5px;height:7.3px;background:#fff;border:0.6px solid #8c8c8c;box-sizing:border-box;"></div>
<svg style="left:384px;top:368.4px" width="7.5" height="7.3" viewBox="0 0 8 8"><path d="M0.8 0.8L7.2 7.2M7.2 0.8L0.8 7.2" stroke="#6e6e6e" stroke-width="0.6" fill="none"/></svg>
<div class="t" style="top:369.78px;height:6.75px;line-height:6.75px;font-size:5.4px;color:#222;-webkit-text-stroke:0.14px #222;left:395.3px;">Y-auto scale</div>
<div style="left:431.4px;top:368.4px;width:7.5px;height:7.3px;background:#fff;border:0.6px solid #8c8c8c;box-sizing:border-box;"></div>
<div class="t" style="top:369.78px;height:6.75px;line-height:6.75px;font-size:5.4px;color:#222;-webkit-text-stroke:0.14px #222;left:442.7px;">Y-log scale</div>
<svg style="left:0;top:0" width="720" height="690" viewBox="0 0 720 690">
<path d="M427.65 380V545M454.91 380V545M482.16 380V545M509.42 380V545M536.67 380V545M563.93 380V545M591.18 380V545M618.44 380V545M645.69 380V545M400.4 380H645.7M400.4 391H645.7M400.4 402H645.7M400.4 413H645.7M400.4 424H645.7M400.4 435H645.7M400.4 446H645.7M400.4 457H645.7M400.4 468H645.7M400.4 479H645.7M400.4 490H645.7M400.4 501H645.7M400.4 512H645.7M400.4 523H645.7M400.4 534H645.7" stroke="#cfcfcf" stroke-width="0.9" fill="none"/>
<path d="M400.4 380V545H645.7" stroke="#8a8a8a" stroke-width="0.8" fill="none"/>
<path d="M398.4 380h2M398.4 391h2M398.4 402h2M398.4 413h2M398.4 424h2M398.4 435h2M398.4 446h2M398.4 457h2M398.4 468h2M398.4 479h2M398.4 490h2M398.4 501h2M398.4 512h2M398.4 523h2M398.4 534h2M398.4 545h2M400.4 545v2M427.65 545v2M454.91 545v2M482.16 545v2M509.42 545v2M536.67 545v2M563.93 545v2M591.18 545v2M618.44 545v2M645.69 545v2" stroke="#555" stroke-width="0.6" fill="none"/>
<polyline points="449.46,541.8 465.81,529.8 482.16,536.7 498.52,529.8 514.87,535.2 531.22,524.7 547.58,540 563.93,538 580.28,536 596.64,534.8 612.99,533.5 629.34,533.5 645.69,538.8" stroke="#8e8e8e" stroke-width="0.9" fill="none" stroke-linejoin="round"/>
<path d="M448.66 541h1.6v1.6h-1.6zM465.01 529h1.6v1.6h-1.6zM481.36 535.9h1.6v1.6h-1.6zM497.72 529h1.6v1.6h-1.6zM514.07 534.4h1.6v1.6h-1.6zM530.42 523.9h1.6v1.6h-1.6zM546.78 539.2h1.6v1.6h-1.6zM563.13 537.2h1.6v1.6h-1.6zM579.48 535.2h1.6v1.6h-1.6zM595.84 534h1.6v1.6h-1.6zM612.19 532.7h1.6v1.6h-1.6zM628.54 532.7h1.6v1.6h-1.6zM644.89 538h1.6v1.6h-1.6z" fill="#8e8e8e"/>
<polyline points="400.4,543 416.75,543 433.11,543 449.46,543 465.81,543 482.16,543 498.52,543 514.87,543 531.22,543 547.58,543 563.93,543 580.28,543 596.64,543 612.99,543 629.34,543 645.69,543" stroke="#e028d8" stroke-width="0.9" fill="none" stroke-linejoin="round"/>
<path d="M399.6 542.2h1.6v1.6h-1.6zM415.95 542.2h1.6v1.6h-1.6zM432.31 542.2h1.6v1.6h-1.6zM448.66 542.2h1.6v1.6h-1.6zM465.01 542.2h1.6v1.6h-1.6zM481.36 542.2h1.6v1.6h-1.6zM497.72 542.2h1.6v1.6h-1.6zM514.07 542.2h1.6v1.6h-1.6zM530.42 542.2h1.6v1.6h-1.6zM546.78 542.2h1.6v1.6h-1.6zM563.13 542.2h1.6v1.6h-1.6zM579.48 542.2h1.6v1.6h-1.6zM595.84 542.2h1.6v1.6h-1.6zM612.19 542.2h1.6v1.6h-1.6zM628.54 542.2h1.6v1.6h-1.6zM644.89 542.2h1.6v1.6h-1.6z" fill="#e028d8"/>
<polyline points="400.4,540.4 416.75,541.8 433.11,542.4 449.46,541.8 465.81,540.8 482.16,541.8 498.52,542.2 514.87,541.8 531.22,539.2 547.58,541.8 563.93,541.4 580.28,540.9 596.64,541.8 612.99,540.7 629.34,540.2 645.69,541.4" stroke="#1c6a22" stroke-width="0.9" fill="none" stroke-linejoin="round"/>
<path d="M399.6 539.6h1.6v1.6h-1.6zM415.95 541h1.6v1.6h-1.6zM432.31 541.6h1.6v1.6h-1.6zM448.66 541h1.6v1.6h-1.6zM465.01 540h1.6v1.6h-1.6zM481.36 541h1.6v1.6h-1.6zM497.72 541.4h1.6v1.6h-1.6zM514.07 541h1.6v1.6h-1.6zM530.42 538.4h1.6v1.6h-1.6zM546.78 541h1.6v1.6h-1.6zM563.13 540.6h1.6v1.6h-1.6zM579.48 540.1h1.6v1.6h-1.6zM595.84 541h1.6v1.6h-1.6zM612.19 539.9h1.6v1.6h-1.6zM628.54 539.4h1.6v1.6h-1.6zM644.89 540.6h1.6v1.6h-1.6z" fill="#1c6a22"/>
<polyline points="400.4,537 416.75,539.8 433.11,541.2 449.46,541.5 465.81,536.2 482.16,538.3 498.52,538.3 514.87,540.8 531.22,534.7 547.58,540.9 563.93,540.3 580.28,537.4 596.64,540.9 612.99,536.9 629.34,535.3 645.69,539.3" stroke="#1a46c8" stroke-width="0.9" fill="none" stroke-linejoin="round"/>
<path d="M399.6 536.2h1.6v1.6h-1.6zM415.95 539h1.6v1.6h-1.6zM432.31 540.4h1.6v1.6h-1.6zM448.66 540.7h1.6v1.6h-1.6zM465.01 535.4h1.6v1.6h-1.6zM481.36 537.5h1.6v1.6h-1.6zM497.72 537.5h1.6v1.6h-1.6zM514.07 540h1.6v1.6h-1.6zM530.42 533.9h1.6v1.6h-1.6zM546.78 540.1h1.6v1.6h-1.6zM563.13 539.5h1.6v1.6h-1.6zM579.48 536.6h1.6v1.6h-1.6zM595.84 540.1h1.6v1.6h-1.6zM612.19 536.1h1.6v1.6h-1.6zM628.54 534.5h1.6v1.6h-1.6zM644.89 538.5h1.6v1.6h-1.6z" fill="#1a46c8"/>
<polyline points="400.4,536.2 416.75,538.7 433.11,539.8 449.46,538.3 465.81,524.8 482.16,533.1 498.52,525.8 514.87,530.8 531.22,518 547.58,536.1 563.93,536.6 580.28,533 596.64,530.8 612.99,528.2 629.34,527.4 645.69,535.6" stroke="#cc1a1a" stroke-width="1.0" fill="none" stroke-linejoin="round"/>
<path d="M399.6 535.4h1.6v1.6h-1.6zM415.95 537.9h1.6v1.6h-1.6zM432.31 539h1.6v1.6h-1.6zM448.66 537.5h1.6v1.6h-1.6zM465.01 524h1.6v1.6h-1.6zM481.36 532.3h1.6v1.6h-1.6zM497.72 525h1.6v1.6h-1.6zM514.07 530h1.6v1.6h-1.6zM530.42 517.2h1.6v1.6h-1.6zM546.78 535.3h1.6v1.6h-1.6zM563.13 535.8h1.6v1.6h-1.6zM579.48 532.2h1.6v1.6h-1.6zM595.84 530h1.6v1.6h-1.6zM612.19 527.4h1.6v1.6h-1.6zM628.54 526.6h1.6v1.6h-1.6zM644.89 534.8h1.6v1.6h-1.6z" fill="#cc1a1a"/>
<polyline points="400.4,535.6 416.75,538.7 433.11,539.8 449.46,455.4 465.81,388.6 482.16,529.4 498.52,490.2 514.87,494 531.22,505.4 547.58,533.2 563.93,490.4 580.28,507 596.64,388.6 612.99,454 629.34,496.5 645.69,525.6" stroke="#141414" stroke-width="1.0" fill="none" stroke-linejoin="round"/>
<path d="M399.6 534.8h1.6v1.6h-1.6zM415.95 537.9h1.6v1.6h-1.6zM432.31 539h1.6v1.6h-1.6zM448.66 454.6h1.6v1.6h-1.6zM465.01 387.8h1.6v1.6h-1.6zM481.36 528.6h1.6v1.6h-1.6zM497.72 489.4h1.6v1.6h-1.6zM514.07 493.2h1.6v1.6h-1.6zM530.42 504.6h1.6v1.6h-1.6zM546.78 532.4h1.6v1.6h-1.6zM563.13 489.6h1.6v1.6h-1.6zM579.48 506.2h1.6v1.6h-1.6zM595.84 387.8h1.6v1.6h-1.6zM612.19 453.2h1.6v1.6h-1.6zM628.54 495.7h1.6v1.6h-1.6zM644.89 524.8h1.6v1.6h-1.6z" fill="#141414"/>
<rect x="646.5" y="366.2" width="67" height="56" fill="#fff"/>
<path d="M695.6 373.1L700 368.7L704.4 373.1L708.9 368.7V373.1Z" fill="#f2f2f2"/>
<path d="M695.6 373.1L700 368.7L704.4 373.1L708.9 368.7" stroke="#141414" stroke-width="1.25" fill="none" stroke-linejoin="miter"/>
<path d="M695.6 382L700 377.6L704.4 382L708.9 377.6V382Z" fill="#fbdcdc"/>
<path d="M695.6 382L700 377.6L704.4 382L708.9 377.6" stroke="#a8141c" stroke-width="1.25" fill="none" stroke-linejoin="miter"/>
<path d="M695.6 390.9L700 386.5L704.4 390.9L708.9 386.5V390.9Z" fill="#dce4fb"/>
<path d="M695.6 390.9L700 386.5L704.4 390.9L708.9 386.5" stroke="#1c3aa4" stroke-width="1.25" fill="none" stroke-linejoin="miter"/>
<path d="M695.6 399.8L700 395.4L704.4 399.8L708.9 395.4V399.8Z" fill="#e2f3e2"/>
<path d="M695.6 399.8L700 395.4L704.4 399.8L708.9 395.4" stroke="#155a1c" stroke-width="1.25" fill="none" stroke-linejoin="miter"/>
<path d="M695.6 408.7L700 404.3L704.4 408.7L708.9 404.3V408.7Z" fill="#f8dcf8"/>
<path d="M695.6 408.7L700 404.3L704.4 408.7L708.9 404.3" stroke="#a01cc0" stroke-width="1.25" fill="none" stroke-linejoin="miter"/>
<path d="M695.6 417.6L700 413.2L704.4 417.6L708.9 413.2V417.6Z" fill="#f0f0f0"/>
<path d="M695.6 417.6L700 413.2L704.4 417.6L708.9 413.2" stroke="#6e6e6e" stroke-width="1.25" fill="none" stroke-linejoin="miter"/>
<rect x="627.8" y="563.9" width="36" height="5.6" fill="#ececec" stroke="#b4b4b4" stroke-width="0.5"/>
<rect x="628.2" y="564.3" width="4.6" height="4.8" fill="#fafafa" stroke="#a0a0a0" stroke-width="0.4"/><rect x="658.8" y="564.3" width="4.6" height="4.8" fill="#fafafa" stroke="#a0a0a0" stroke-width="0.4"/>
<rect x="686.6" y="563.5" width="6.4" height="5.5" fill="#3c3c3c"/>
<path d="M687.8 565.4h3.8M687.8 567.2h3.8M689.7 564.5v3.8" stroke="#c8c8c8" stroke-width="0.7" fill="none"/>
<rect x="694" y="563.5" width="6.1" height="5.5" fill="#6a6a6a"/>
<path d="M695.2 565.4h3.8M695.2 567.2h3.8M697.1 564.5v3.8" stroke="#c8c8c8" stroke-width="0.7" fill="none"/>
<rect x="701.4" y="563.5" width="5.8" height="5.5" fill="#4c4c4c"/>
<path d="M702.6 565.4h3.8M702.6 567.2h3.8M704.5 564.5v3.8" stroke="#c8c8c8" stroke-width="0.7" fill="none"/>
</svg>
<div class="t" style="top:377.61px;height:6.88px;line-height:6.88px;font-size:5.5px;color:#222;-webkit-text-stroke:0.14px #222;left:157.6px;width:240px;text-align:right;">300,0</div>
<div class="t" style="top:388.61px;height:6.88px;line-height:6.88px;font-size:5.5px;color:#222;-webkit-text-stroke:0.14px #222;left:157.6px;width:240px;text-align:right;">280,0</div>
<div class="t" style="top:399.61px;height:6.88px;line-height:6.88px;font-size:5.5px;color:#222;-webkit-text-stroke:0.14px #222;left:157.6px;width:240px;text-align:right;">260,0</div>
<div class="t" style="top:410.61px;height:6.88px;line-height:6.88px;font-size:5.5px;color:#222;-webkit-text-stroke:0.14px #222;left:157.6px;width:240px;text-align:right;">240,0</div>
<div class="t" style="top:421.61px;height:6.88px;line-height:6.88px;font-size:5.5px;color:#222;-webkit-text-stroke:0.14px #222;left:157.6px;width:240px;text-align:right;">220,0</div>
<div class="t" style="top:432.61px;height:6.88px;line-height:6.88px;font-size:5.5px;color:#222;-webkit-text-stroke:0.14px #222;left:157.6px;width:240px;text-align:right;">200,0</div>
<div class="t" style="top:443.61px;height:6.88px;line-height:6.88px;font-size:5.5px;color:#222;-webkit-text-stroke:0.14px #222;left:157.6px;width:240px;text-align:right;">180,0</div>
<div class="t" style="top:454.61px;height:6.88px;line-height:6.88px;font-size:5.5px;color:#222;-webkit-text-stroke:0.14px #222;left:157.6px;width:240px;text-align:right;">160,0</div>
<div class="t" style="top:465.61px;height:6.88px;line-height:6.88px;font-size:5.5px;color:#222;-webkit-text-stroke:0.14px #222;left:157.6px;width:240px;text-align:right;">140,0</div>
<div class="t" style="top:476.61px;height:6.88px;line-height:6.88px;font-size:5.5px;color:#222;-webkit-text-stroke:0.14px #222;left:157.6px;width:240px;text-align:right;">120,0</div>
<div class="t" style="top:487.61px;height:6.88px;line-height:6.88px;font-size:5.5px;color:#222;-webkit-text-stroke:0.14px #222;left:157.6px;width:240px;text-align:right;">100,0</div>
<div class="t" style="top:498.61px;height:6.88px;line-height:6.88px;font-size:5.5px;color:#222;-webkit-text-stroke:0.14px #222;left:157.6px;width:240px;text-align:right;">80,0</div>
<div class="t" style="top:509.61px;height:6.88px;line-height:6.88px;font-size:5.5px;color:#222;-webkit-text-stroke:0.14px #222;left:157.6px;width:240px;text-align:right;">60,0</div>
<div class="t" style="top:520.61px;height:6.88px;line-height:6.88px;font-size:5.5px;color:#222;-webkit-text-stroke:0.14px #222;left:157.6px;width:240px;text-align:right;">40,0</div>
<div class="t" style="top:531.61px;height:6.88px;line-height:6.88px;font-size:5.5px;color:#222;-webkit-text-stroke:0.14px #222;left:157.6px;width:240px;text-align:right;">20,0</div>
<div class="t" style="top:542.61px;height:6.88px;line-height:6.88px;font-size:5.5px;color:#222;-webkit-text-stroke:0.14px #222;left:157.6px;width:240px;text-align:right;">0,0</div>
<div class="t" style="top:548.62px;height:6.25px;line-height:6.25px;font-size:5px;color:#222;-webkit-text-stroke:0.14px #222;left:281px;width:240px;text-align:center;">12:20:20</div>
<div class="t" style="top:555.02px;height:6.25px;line-height:6.25px;font-size:5px;color:#222;-webkit-text-stroke:0.14px #222;left:281px;width:240px;text-align:center;">15/05/19</div>
<div class="t" style="top:548.62px;height:6.25px;line-height:6.25px;font-size:5px;color:#222;-webkit-text-stroke:0.14px #222;left:308.25px;width:240px;text-align:center;">12:20:30</div>
<div class="t" style="top:555.02px;height:6.25px;line-height:6.25px;font-size:5px;color:#222;-webkit-text-stroke:0.14px #222;left:308.25px;width:240px;text-align:center;">15/05/19</div>
<div class="t" style="top:548.62px;height:6.25px;line-height:6.25px;font-size:5px;color:#222;-webkit-text-stroke:0.14px #222;left:335.51px;width:240px;text-align:center;">12:20:40</div>
<div class="t" style="top:555.02px;height:6.25px;line-height:6.25px;font-size:5px;color:#222;-webkit-text-stroke:0.14px #222;left:335.51px;width:240px;text-align:center;">15/05/19</div>
<div class="t" style="top:548.62px;height:6.25px;line-height:6.25px;font-size:5px;color:#222;-webkit-text-stroke:0.14px #222;left:362.76px;width:240px;text-align:center;">12:20:50</div>
<div class="t" style="top:555.02px;height:6.25px;line-height:6.25px;font-size:5px;color:#222;-webkit-text-stroke:0.14px #222;left:362.76px;width:240px;text-align:center;">15/05/19</div>
<div class="t" style="top:548.62px;height:6.25px;line-height:6.25px;font-size:5px;color:#222;-webkit-text-stroke:0.14px #222;left:390.02px;width:240px;text-align:center;">12:21:00</div>
<div class="t" style="top:555.02px;height:6.25px;line-height:6.25px;font-size:5px;color:#222;-webkit-text-stroke:0.14px #222;left:390.02px;width:240px;text-align:center;">15/05/19</div>
<div class="t" style="top:548.62px;height:6.25px;line-height:6.25px;font-size:5px;color:#222;-webkit-text-stroke:0.14px #222;left:417.27px;width:240px;text-align:center;">12:21:10</div>
<div class="t" style="top:555.02px;height:6.25px;line-height:6.25px;font-size:5px;color:#222;-webkit-text-stroke:0.14px #222;left:417.27px;width:240px;text-align:center;">15/05/19</div>
<div class="t" style="top:548.62px;height:6.25px;line-height:6.25px;font-size:5px;color:#222;-webkit-text-stroke:0.14px #222;left:444.53px;width:240px;text-align:center;">12:21:20</div>
<div class="t" style="top:555.02px;height:6.25px;line-height:6.25px;font-size:5px;color:#222;-webkit-text-stroke:0.14px #222;left:444.53px;width:240px;text-align:center;">15/05/19</div>
<div class="t" style="top:548.62px;height:6.25px;line-height:6.25px;font-size:5px;color:#222;-webkit-text-stroke:0.14px #222;left:471.78px;width:240px;text-align:center;">12:21:30</div>
<div class="t" style="top:555.02px;height:6.25px;line-height:6.25px;font-size:5px;color:#222;-webkit-text-stroke:0.14px #222;left:471.78px;width:240px;text-align:center;">15/05/19</div>
<div class="t" style="top:548.62px;height:6.25px;line-height:6.25px;font-size:5px;color:#222;-webkit-text-stroke:0.14px #222;left:499.04px;width:240px;text-align:center;">12:21:40</div>
<div class="t" style="top:555.02px;height:6.25px;line-height:6.25px;font-size:5px;color:#222;-webkit-text-stroke:0.14px #222;left:499.04px;width:240px;text-align:center;">15/05/19</div>
<div class="t" style="top:548.62px;height:6.25px;line-height:6.25px;font-size:5px;color:#222;-webkit-text-stroke:0.14px #222;left:526.29px;width:240px;text-align:center;">12:21:50</div>
<div class="t" style="top:555.02px;height:6.25px;line-height:6.25px;font-size:5px;color:#222;-webkit-text-stroke:0.14px #222;left:526.29px;width:240px;text-align:center;">15/05/19</div>
<svg style="left:0;top:0" width="720" height="690" viewBox="0 0 720 690"><text x="377.8" y="458.8" transform="rotate(-90 377.8 458.8)" text-anchor="middle" dy="2.66" font-family="Liberation Sans, sans-serif" font-size="7.5" fill="#151515">PM [ug/m3]</text></svg>
<div class="t" style="top:561px;height:9.5px;line-height:9.5px;font-size:7.6px;color:#151515;left:524.3px;">Time</div>
<div class="t" style="top:368.78px;height:6.75px;line-height:6.75px;font-size:5.4px;color:#1a1a1a;-webkit-text-stroke:0.14px #1a1a1a;left:451.7px;width:240px;text-align:right;">TSP [ug/m3]</div>
<div class="t" style="top:377.68px;height:6.75px;line-height:6.75px;font-size:5.4px;color:#1a1a1a;-webkit-text-stroke:0.14px #1a1a1a;left:451.7px;width:240px;text-align:right;">PM10 [ug/m3]</div>
<div class="t" style="top:386.58px;height:6.75px;line-height:6.75px;font-size:5.4px;color:#1a1a1a;-webkit-text-stroke:0.14px #1a1a1a;left:451.7px;width:240px;text-align:right;">PM4 [ug/m3]</div>
<div class="t" style="top:395.48px;height:6.75px;line-height:6.75px;font-size:5.4px;color:#1a1a1a;-webkit-text-stroke:0.14px #1a1a1a;left:451.7px;width:240px;text-align:right;">PM2.5 [ug/m3]</div>
<div class="t" style="top:404.38px;height:6.75px;line-height:6.75px;font-size:5.4px;color:#1a1a1a;-webkit-text-stroke:0.14px #1a1a1a;left:451.7px;width:240px;text-align:right;">PM1 [ug/m3]</div>
<div class="t" style="top:413.28px;height:6.75px;line-height:6.75px;font-size:5.4px;color:#1a1a1a;-webkit-text-stroke:0.14px #1a1a1a;left:451.7px;width:240px;text-align:right;">PMcoarse [ug/m3]</div>
<div class="t" style="top:529.01px;height:8.88px;line-height:8.88px;font-size:7.1px;color:#151515;left:668.3px;">dt PM display</div>
<div style="left:670.4px;top:537.4px;width:39.2px;height:9.6px;background:linear-gradient(#efefef,#e2e2e2);border-bottom:0.9px solid #9a9a9a;border-right:0.7px solid #b0b0b0;box-sizing:border-box;"></div>
<div class="t" style="top:538.27px;height:9.75px;line-height:9.75px;font-size:7.8px;color:#101010;left:462.3px;width:240px;text-align:right;">6 s</div>
<svg style="left:703.5px;top:541.2px" width="5" height="3" viewBox="0 0 5 3"><path d="M0 0H5L2.5 3Z" fill="#111"/></svg>
</div>
<svg style="left:0;top:0" width="720" height="690" viewBox="0 0 720 690">
<g><text x="78.8" y="298.6" xml:space="preserve" font-family="'Liberation Sans','Noto Sans CJK SC',sans-serif" font-size="13.3" fill="#2e2e2e">图 各粒径通道实时测量数据显示</text></g>
<g><text x="439.2" y="298.6" xml:space="preserve" font-family="'Liberation Sans','Noto Sans CJK SC',sans-serif" font-size="13.3" fill="#2e2e2e">图 颗粒物表面积分布粒径谱图</text></g>
<g><text x="78.8" y="597.4" xml:space="preserve" font-family="'Liberation Sans','Noto Sans CJK SC',sans-serif" font-size="13.3" fill="#2e2e2e">图 图颗粒物质量浓度分布粒径谱图</text></g>
<g><text x="491.7" y="597.4" xml:space="preserve" font-family="'Liberation Sans','Noto Sans CJK SC',sans-serif" font-size="13.3" fill="#2e2e2e">图 PM值时间趋势图</text></g>
<g><text x="573" y="631.3" font-family="'Liberation Sans','Noto Sans CJK SC',sans-serif" font-size="19.8" font-weight="bold" fill="#3a8ee2">我要仪器仪表</text></g>
<g transform="translate(360.1 623.2) matrix(1 0 -0.15 1 0 0)"><path d="M28.3 4.05H3.7V24.6" stroke="#f79f18" stroke-width="7.8" fill="none" stroke-linejoin="miter"/><path d="M0.2 18.85H19.4Q24 18.85 24 23.6V32.3Q24 36.95 19.4 36.95H5.4Q3.5 36.95 3.5 35V27.7" stroke="#f79f18" stroke-width="8.2" fill="none" stroke-linejoin="round"/></g>
<g transform="translate(401.2 623.3) matrix(1 0 -0.15 1 0 0)"><path d="M0 0H13.8V40.7H4.5V7.8H0Z" fill="#f79f18"/></g>
<g transform="translate(436.1 623.3) matrix(1 0 -0.15 1 0 0)"><path d="M0 0H13.2V40.7H4.2V7.8H0Z" fill="#f79f18"/></g>
<g transform="translate(505.8 623.3) matrix(1 0 -0.15 1 0 0)"><path d="M0 0H14.1V40.7H4.3V7.8H0Z" fill="#f79f18"/></g>
<path d="M464.3 623.4H493.3L491.9 631.4L470.1 664.4H460L483.2 631.8H462.9Z" fill="#f79f18"/>
<g transform="translate(534.6 623.2) matrix(1 0 -0.15 1 0 0)"><path fill="#f79f18" d="M8.4 0H21Q28.2 0 28.2 7.2V14.2Q28.2 21.4 21 21.4H8.4Q1.2 21.4 1.2 14.2V7.2Q1.2 0 8.4 0ZM7.4 18.6H20.2Q27.6 18.6 27.6 26V33.4Q27.6 40.8 20.2 40.8H7.4Q0 40.8 0 33.4V26Q0 18.6 7.4 18.6Z"/><path fill="#fff" d="M10.2 8.2H18.6Q21.2 8.2 21.2 10.8V13.2Q21.2 15.8 18.6 15.8H10.2Q7.6 15.8 7.6 13.2V10.8Q7.6 8.2 10.2 8.2ZM9.6 24.1H17.6Q20.6 24.1 20.6 27.1V30.2Q20.6 33.2 17.6 33.2H9.6Q6.6 33.2 6.6 30.2V27.1Q6.6 24.1 9.6 24.1Z"/></g>
<rect x="572.2" y="658.3" width="6.7" height="6.3" rx="2.3" fill="#8b8b8b"/>
<path d="M613.5 651V649.5Q613.5 646.35 610.3 646.35H597.8Q593.2 646.35 593.2 650.9V656.2Q593.2 660.75 597.8 660.75H610.3Q613.5 660.75 613.5 657.6V656.1" stroke="#8b8b8b" stroke-width="6.3" fill="none"/>
<rect x="625.4" y="646.35" width="21.5" height="14.4" rx="4.6" stroke="#8b8b8b" stroke-width="6.3" fill="none"/>
<path d="M657.6 663.9V643.2M657.6 651Q657.6 646.35 662.2 646.35H668.8Q673.4 646.35 673.4 651V663.9M673.4 651Q673.4 646.35 678 646.35H685Q689.6 646.35 689.6 651V663.9" stroke="#8b8b8b" stroke-width="6.3" fill="none"/>
</svg>
</div></body></html>
